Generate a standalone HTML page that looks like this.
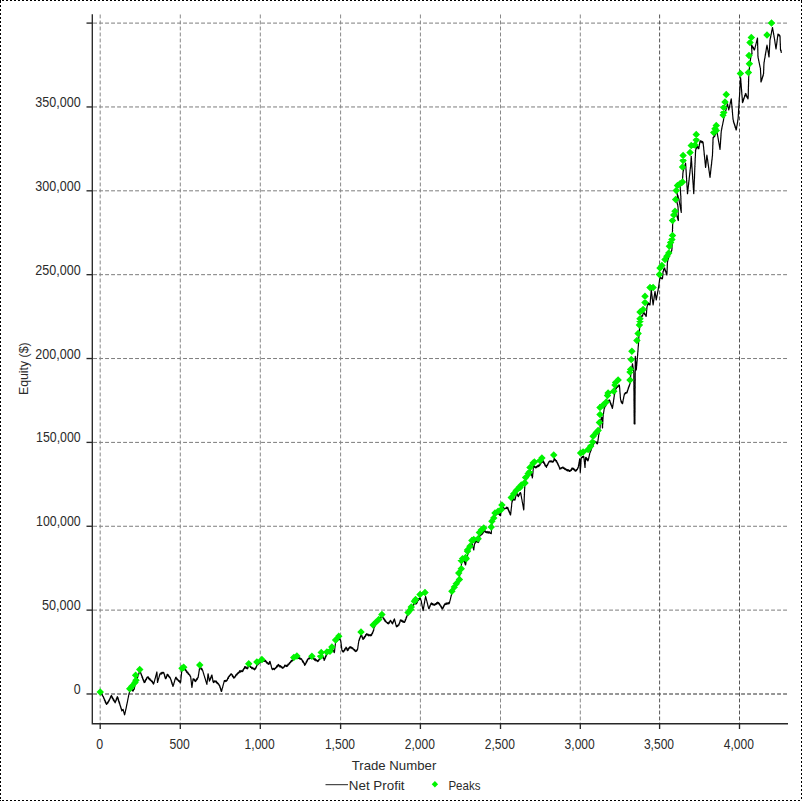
<!DOCTYPE html>
<html><head><meta charset="utf-8"><title>Equity Curve</title>
<style>html,body{margin:0;padding:0;background:#fff}svg{display:block}text{font-family:"Liberation Sans",sans-serif;font-size:13.6px;fill:#2b2b2b}</style></head><body>
<svg width="802" height="801" viewBox="0 0 802 801">
<rect width="802" height="801" fill="#fff"/>
<g stroke="#000" stroke-width="1" shape-rendering="crispEdges" stroke-dasharray="2 2">
<line x1="2" y1="0.5" x2="802" y2="0.5"/>
<line x1="2" y1="800.5" x2="802" y2="800.5"/>
<line x1="0.5" y1="1" x2="0.5" y2="801"/>
<line x1="801.5" y1="1" x2="801.5" y2="801"/>
</g><path d="M0 0h1v1h-1zM801 0h1v1h-1zM0 800h1v1h-1z" fill="#000" shape-rendering="crispEdges"/>
<g stroke="#7c7c7c" stroke-width="1" stroke-dasharray="3.9 2.1" fill="none">
<line x1="93.1" y1="23.1" x2="788" y2="23.1"/>
<line x1="93.1" y1="106.96" x2="788" y2="106.96"/>
<line x1="93.1" y1="190.82" x2="788" y2="190.82"/>
<line x1="93.1" y1="274.68" x2="788" y2="274.68"/>
<line x1="93.1" y1="358.54" x2="788" y2="358.54"/>
<line x1="93.1" y1="442.4" x2="788" y2="442.4"/>
<line x1="93.1" y1="526.26" x2="788" y2="526.26"/>
<line x1="93.1" y1="610.12" x2="788" y2="610.12"/>
<line x1="93.1" y1="693.98" x2="788" y2="693.98" stroke="#2e2e2e" stroke-width="1.2"/>
<line x1="100.2" y1="14.5" x2="100.2" y2="723.75" stroke="#888"/>
<line x1="180.3" y1="14.5" x2="180.3" y2="723.75" stroke="#888"/>
<line x1="260.3" y1="14.5" x2="260.3" y2="723.75" stroke="#888"/>
<line x1="340.6" y1="14.5" x2="340.6" y2="723.75" stroke="#888"/>
<line x1="420.4" y1="14.5" x2="420.4" y2="723.75" stroke="#888"/>
<line x1="500.5" y1="14.5" x2="500.5" y2="723.75" stroke="#888"/>
<line x1="580.3" y1="14.5" x2="580.3" y2="723.75" stroke="#888"/>
<line x1="659.6" y1="14.5" x2="659.6" y2="723.75" stroke="#555"/>
<line x1="739.5" y1="14.5" x2="739.5" y2="723.75" stroke="#555"/>
</g>
<g stroke="#282828" stroke-width="1.35" fill="none">
<path d="M92.3 14.3V723.75H788"/>
<line x1="86.5" y1="23.1" x2="92.3" y2="23.1"/>
<line x1="86.5" y1="106.96" x2="92.3" y2="106.96"/>
<line x1="86.5" y1="190.82" x2="92.3" y2="190.82"/>
<line x1="86.5" y1="274.68" x2="92.3" y2="274.68"/>
<line x1="86.5" y1="358.54" x2="92.3" y2="358.54"/>
<line x1="86.5" y1="442.4" x2="92.3" y2="442.4"/>
<line x1="86.5" y1="526.26" x2="92.3" y2="526.26"/>
<line x1="86.5" y1="610.12" x2="92.3" y2="610.12"/>
<line x1="86.5" y1="693.98" x2="92.3" y2="693.98"/>
<line x1="100.2" y1="723.75" x2="100.2" y2="729"/>
<line x1="180.3" y1="723.75" x2="180.3" y2="729"/>
<line x1="260.3" y1="723.75" x2="260.3" y2="729"/>
<line x1="340.6" y1="723.75" x2="340.6" y2="729"/>
<line x1="420.4" y1="723.75" x2="420.4" y2="729"/>
<line x1="500.5" y1="723.75" x2="500.5" y2="729"/>
<line x1="580.3" y1="723.75" x2="580.3" y2="729"/>
<line x1="659.6" y1="723.75" x2="659.6" y2="729"/>
<line x1="739.5" y1="723.75" x2="739.5" y2="729"/>
</g>
<polyline fill="none" stroke="#000" stroke-width="1.15" stroke-linejoin="round" points="100.25,691.9 100.57,691.85 100.88,693.29 101.2,692.62 101.52,694.21 101.83,693.65 102.15,695.36 102.47,694.92 102.78,696.41 103.1,696.25 103.31,696.4 103.52,697.87 103.74,697.4 103.95,698.68 104.16,698.2 104.38,700.15 104.59,699.41 104.8,700.8 105.01,700.11 105.22,702.26 105.44,701.16 105.65,702.94 105.86,701.94 106.08,703.74 106.29,703.03 106.5,704.4 106.79,704.47 107.08,703.1 107.37,703.49 107.66,702.12 107.95,703.04 108.24,701.32 108.53,702.01 108.82,700.15 109.11,701 109.4,700 109.61,698.84 109.81,699.39 110.02,698.16 110.22,698.5 110.43,696.8 110.63,697.66 110.84,696.05 111.04,696.78 111.25,695.6 111.52,695.48 111.79,697.1 112.05,696.26 112.32,698.34 112.59,697.58 112.86,699.24 113.12,698.39 113.39,700.42 113.66,699.25 113.93,701.04 114.2,700.08 114.46,701.92 114.73,701.42 115,702.5 115.23,702.79 115.45,701.06 115.68,701.61 115.91,700.11 116.14,700.7 116.36,698.64 116.59,699.62 116.82,697.55 117.05,698.44 117.27,696.65 117.5,696.9 117.67,698.13 117.84,697.26 118.01,699.09 118.18,698.16 118.35,700.45 118.52,699.44 118.68,701.33 118.85,700.75 119.02,702.41 119.19,701.44 119.36,703.64 119.53,702.38 119.7,704.26 119.87,703.71 120.04,705.55 120.21,704.98 120.38,706.48 120.55,705.95 120.72,707.32 120.88,707.07 121.05,708.77 121.22,708.08 121.39,709.5 121.56,708.97 121.73,710.94 121.9,710.6 122.3,709.82 122.7,710.41 123.1,709.4 123.13,709.85 123.51,710.5 123.38,710.85 123.78,711.51 123.7,711.9 124.01,712.51 123.97,712.91 124.33,713.55 124.18,713.9 124.53,714.53 124.6,715 124.65,714.43 124.91,713.97 124.88,713.35 125.17,712.91 125.08,712.26 125.38,711.83 125.37,711.22 125.63,710.77 125.57,710.13 125.88,709.7 125.75,709.03 126.13,708.64 126.03,707.98 126.25,707.5 126.47,707.02 126.35,706.35 126.63,705.9 126.55,705.25 126.92,704.85 126.77,704.16 127.14,703.77 127.03,703.1 127.32,702.66 127.28,702.03 127.56,701.59 127.5,700.95 127.72,700.47 127.7,699.85 127.95,699.39 127.91,698.76 128.15,698.29 128.16,697.69 128.38,697.21 128.36,696.6 128.62,696.14 128.59,695.51 128.75,695 129.02,694.52 128.92,693.83 129.23,693.37 129.23,692.73 129.53,692.27 129.5,691.62 129.79,691.15 129.73,690.48 130,690 130.3,690.55 130.6,688.58 130.9,689.43 131.2,688.01 131.5,688 131.67,688.9 131.83,688.46 132,690 132.17,689.16 132.33,690.93 132.5,691 132.88,690.2 133.26,691.02 133.64,688.99 134.02,689.62 134.4,688.75 134.36,688.16 134.59,687.73 134.5,687.11 134.81,686.72 134.6,686.03 134.92,685.65 134.79,685.01 135.02,684.58 135,684 135.19,683.06 135.38,683.81 135.56,681.84 135.75,682.81 135.94,680.96 136.12,681.47 136.31,679.67 136.5,680 136.69,680.44 136.88,678.14 137.06,679.33 137.25,677.16 137.44,678.29 137.62,676.53 137.81,677.15 138,676 138.18,674.95 138.35,675.35 138.53,674.15 138.7,674.51 138.88,673.01 139.05,673.76 139.22,671.58 139.4,672.61 139.57,670.59 139.75,671 140.03,672.44 140.32,671.08 140.6,672.5 140.79,673.59 140.97,673.1 141.16,674.58 141.34,674.19 141.53,675.64 141.71,675 141.9,676.25 142.11,677.66 142.32,676.44 142.53,678.44 142.73,677.6 142.94,679.68 143.15,678.99 143.36,680.64 143.57,679.52 143.78,681.75 143.98,680.66 144.19,682.61 144.4,682.5 144.66,681.59 144.92,682.39 145.18,680.56 145.43,681.46 145.69,679.23 145.95,680.28 146.21,678.65 146.47,679.68 146.72,677.52 146.98,678.27 147.24,676.96 147.5,676.9 147.89,677.71 148.28,676.78 148.66,678.89 149.05,678.03 149.44,679.68 149.82,678.29 150.21,680.35 150.6,680 150.95,679.87 151.3,681.5 151.65,680.84 152,682.01 152.35,681.15 152.7,683.23 153.05,682.26 153.4,684.24 153.75,683.75 153.8,683.16 154.17,682.75 154.05,682.06 154.39,681.64 154.39,681.01 154.69,680.56 154.68,679.94 155,679.5 154.96,678.86 155.27,678.42 155.26,677.79 155.61,677.37 155.53,676.7 155.85,676.26 155.79,675.61 156.18,675.21 156.09,674.54 156.47,674.13 156.37,673.46 156.72,673.04 156.66,672.38 156.9,671.9 156.98,672.49 156.87,672.96 157.06,673.61 156.97,674.1 157.19,674.76 157.02,675.21 157.22,675.86 157.03,676.29 157.29,676.98 157.13,677.43 157.35,678.09 157.17,678.54 157.44,679.22 157.28,679.68 157.48,680.33 157.33,680.78 157.51,681.43 157.34,681.87 157.5,682.5 157.75,682.04 157.69,681.41 158.06,681.03 157.95,680.36 158.33,679.98 158.27,679.35 158.63,678.95 158.58,678.33 158.94,677.93 158.88,677.3 159.22,676.9 159.17,676.27 159.55,675.89 159.44,675.23 159.84,674.86 159.71,674.18 160,673.75 160.54,674.06 161.07,672.71 161.61,674.13 162.14,672.18 162.68,673.27 163.21,672.27 163.75,672.5 163.9,673.63 164.06,673.16 164.21,674.54 164.37,674.21 164.52,675.85 164.68,674.81 164.83,677.03 164.98,676.24 165.14,677.96 165.29,676.97 165.45,678.65 165.6,678.75 165.81,677.39 166.02,678.71 166.23,676.83 166.44,677.74 166.66,675.75 166.87,676.48 167.08,674.42 167.29,675.73 167.5,674.4 167.81,674.4 168.12,675.87 168.43,675.05 168.74,676.68 169.05,676.12 169.36,677.54 169.67,676.67 169.98,678.22 170.29,677.64 170.6,678.75 170.78,679.89 170.96,679.48 171.14,680.89 171.31,680.18 171.49,682.08 171.67,681.59 171.85,683.44 172.03,682.22 172.21,684.5 172.39,683.71 172.56,685.14 172.74,684.82 172.92,686.53 173.1,686.25 173.17,685.69 173.46,685.26 173.45,684.65 173.83,684.27 173.71,683.6 174.06,683.21 174.06,682.61 174.42,682.21 174.32,681.56 174.69,681.17 174.66,680.55 174.92,680.11 174.9,679.49 175.25,679.1 175.25,678.5 175.59,678.09 175.6,677.5 176.02,677.19 176.43,679.16 176.85,678.37 177.27,680.03 177.68,679.21 178.1,680 178.52,681.28 178.93,680.22 179.35,681.79 179.77,680.99 180.18,682.99 180.6,682.5 180.58,681.91 180.78,681.45 180.67,680.81 180.9,680.37 180.82,679.75 181.01,679.28 180.94,678.66 181.12,678.19 181.03,677.56 181.25,677.11 181.1,676.45 181.36,676.02 181.24,675.38 181.46,674.93 181.36,674.3 181.56,673.83 181.49,673.22 181.67,672.75 181.55,672.1 181.83,671.69 181.72,671.05 181.94,670.6 181.9,670 182.4,668.79 182.9,669.8 183.4,668.26 183.9,669.4 184.4,668.5 184.74,668.31 185.09,670.24 185.43,669.26 185.78,670.92 186.12,669.97 186.47,672.11 186.81,671.07 187.16,672.9 187.5,672.5 187.84,672.15 188.19,674.06 188.53,673.17 188.88,674.71 189.22,674.22 189.57,675.41 189.91,675.04 190.26,676.62 190.6,676.25 190.59,676.74 190.79,677.36 190.73,677.82 190.98,678.47 190.78,678.85 191.09,679.53 190.96,679.96 191.17,680.58 191.08,681.03 191.31,681.66 191.21,682.11 191.44,682.73 191.33,683.17 191.61,683.83 191.38,684.2 191.69,684.88 191.58,685.31 191.86,685.97 191.7,686.38 191.92,687.01 191.9,687.5 191.92,686.92 192.14,686.46 192.03,685.8 192.3,685.37 192.2,684.73 192.45,684.28 192.37,683.64 192.58,683.17 192.52,682.54 192.74,682.08 192.67,681.45 192.85,680.97 192.79,680.34 193.02,679.89 192.92,679.24 193.1,678.75 193.52,679.83 193.93,678.79 194.35,680.74 194.77,679.64 195.18,681.71 195.6,681.25 195.91,680.21 196.22,680.85 196.54,678.9 196.85,679.8 197.16,678.13 197.47,679.17 197.79,677.61 198.1,677.5 198.32,677.02 198.14,676.32 198.47,675.91 198.33,675.22 198.66,674.81 198.56,674.15 198.81,673.69 198.7,673.02 199.01,672.6 198.84,671.9 199.19,671.5 199.04,670.81 199.37,670.39 199.2,669.7 199.52,669.28 199.42,668.62 199.63,668.14 199.6,667.52 199.75,667 200.14,667.98 200.54,667.46 200.93,669.13 201.32,668.04 201.71,669.86 202.11,668.85 202.5,670 202.78,670.6 202.73,671.01 203.04,671.63 203.02,672.06 203.44,672.74 203.38,673.14 203.74,673.79 203.69,674.2 204.02,674.83 204.01,675.26 204.37,675.91 204.4,676.37 204.69,676.98 204.66,677.4 205.02,678.04 204.99,678.46 205.41,679.15 205.34,679.54 205.68,680.18 205.66,680.61 206.04,681.27 205.96,681.66 206.36,682.33 206.3,682.74 206.63,683.37 206.67,683.83 206.9,684.4 207.04,683.88 206.9,683.21 207.17,682.76 207.05,682.1 207.27,681.63 207.22,681 207.42,680.52 207.29,679.85 207.59,679.42 207.42,678.73 207.67,678.28 207.56,677.62 207.82,677.17 207.69,676.5 207.91,676.03 207.77,675.35 208.04,674.91 207.89,674.23 208.1,673.75 208.33,674.37 208.23,674.79 208.47,675.41 208.34,675.82 208.71,676.51 208.56,676.91 208.83,677.54 208.77,678 209.08,678.65 208.96,679.07 209.23,679.7 209.15,680.14 209.41,680.77 209.4,681.25 209.61,679.81 209.82,680.62 210.03,678.85 210.23,679.81 210.44,677.77 210.65,678.89 210.86,677.13 211.07,677.97 211.28,675.93 211.48,676.39 211.69,675.19 211.9,675 212.09,675.59 211.99,676.01 212.26,676.64 212.2,677.09 212.45,677.7 212.37,678.14 212.68,678.79 212.59,679.22 212.85,679.85 212.69,680.23 212.98,680.87 212.87,681.29 213.1,681.9 213.6,682.54 214.1,680.75 214.6,682.02 215.1,680.82 215.6,681.25 215.98,682.2 216.36,681.05 216.74,683.07 217.12,682.19 217.5,683.72 217.88,683 218.26,684.24 218.64,683.85 219.02,685.47 219.4,685 219.58,685.03 219.75,686.99 219.93,686.14 220.1,687.66 220.28,687.06 220.45,688.7 220.62,688.23 220.8,690.26 220.97,689 221.15,691.25 221.32,690.24 221.5,691.5 221.78,691.06 221.64,690.38 222.02,690 221.93,689.36 222.25,688.94 222.21,688.32 222.56,687.92 222.48,687.28 222.86,686.89 222.8,686.26 223.07,685.82 223.02,685.19 223.36,684.79 223.34,684.18 223.66,683.76 223.63,683.15 223.97,682.75 223.84,682.07 224.2,681.68 224.15,681.05 224.4,680.6 224.86,681.28 225.32,680.25 225.79,681.66 226.25,681.25 226.53,680.33 226.81,680.72 227.08,679.34 227.36,680.21 227.64,678.19 227.92,678.82 228.19,676.97 228.47,678.33 228.75,676.9 229.11,675.84 229.46,676.42 229.82,675.1 230.18,675.49 230.54,674.11 230.89,674.59 231.25,673.75 231.56,673.75 231.86,675.21 232.17,674.52 232.47,676.56 232.78,675.37 233.08,677.24 233.39,676.55 233.69,678.27 234,678.1 234.32,677.09 234.64,677.76 234.96,676.4 235.29,676.83 235.61,674.96 235.93,675.85 236.25,675 236.62,673.98 237,674.97 237.38,673.01 237.75,673.97 238.12,672.63 238.5,673.24 238.88,671.8 239.25,672.61 239.62,670.7 240,671.25 240.5,672.11 241,670.38 241.5,671.6 242,670.9 242.5,671.25 242.78,671.54 243.06,669.4 243.33,670.42 243.61,668.62 243.89,669.17 244.17,667.78 244.44,668.77 244.72,666.54 245,666.9 245.42,668.07 245.83,666.58 246.25,668.31 246.67,667.73 247.08,668.87 247.5,668.75 247.68,667.56 247.86,668.43 248.04,666.23 248.21,667.39 248.39,665.34 248.57,666.34 248.75,665 249.17,664.8 249.58,666.51 250,665.89 250.42,667.48 250.83,666.61 251.25,667.5 251.72,668.64 252.19,667.24 252.66,668.73 253.12,668.04 253.59,669.18 254.06,668.2 254.53,669.93 255,669.4 255.25,668.5 255.5,668.78 255.75,667.24 256,668.09 256.25,666.33 256.5,666.87 256.75,665.2 257,665.74 257.25,664.38 257.5,664.4 257.92,664.62 258.33,662.68 258.75,663.93 259.17,661.92 259.58,663.03 260,662 260.5,661.27 261,661.99 261.5,660.32 262,661 262.5,661.7 263,660.34 263.5,661.15 264,660.09 264.5,661.42 265,660.6 265.38,660.39 265.75,661.85 266.12,661 266.5,663.02 266.88,662.03 267.25,663.23 267.62,662.72 268,664.23 268.38,663.27 268.75,664.4 268.96,664.33 269.17,662.53 269.38,663.61 269.58,661.66 269.79,662.23 270,661.25 269.99,661.7 270.35,662.37 270.28,662.78 270.62,663.43 270.61,663.89 270.94,664.53 270.87,664.95 271.23,665.62 271.12,666.02 271.43,666.65 271.42,667.1 271.72,667.73 271.65,668.15 271.9,668.75 272.42,669.67 272.93,668.33 273.45,669.33 273.97,668.29 274.48,669.68 275,668.75 275.34,667.91 275.69,668.28 276.03,667.13 276.38,667.66 276.72,665.78 277.07,667.13 277.41,665.05 277.76,666.37 278.1,665 278.55,664.37 279.01,666.1 279.46,665.4 279.92,667.04 280.37,665.62 280.83,667.04 281.28,666.23 281.74,667.82 282.19,666.97 282.65,668.36 283.1,668.1 283.42,667.25 283.73,667.6 284.05,666.34 284.37,666.98 284.68,665.09 285,665.6 285.48,666.17 285.95,665 286.42,666.55 286.9,666.25 287.24,665.28 287.59,666.26 287.93,664.16 288.28,665.18 288.62,663.8 288.97,664.37 289.31,662.77 289.66,663.82 290,662.5 290.42,661.66 290.83,662.28 291.25,660.45 291.67,661.3 292.08,659.97 292.5,661 292.92,658.97 293.33,659.75 293.75,659 294.27,658.4 294.8,658.87 295.32,657.35 295.85,658.49 296.38,656.96 296.9,657.5 297.44,658.54 297.99,657.27 298.53,658.47 299.07,657.2 299.62,658.99 300.16,657.94 300.71,659.37 301.25,658.75 301.54,658.7 301.83,660.21 302.12,659.86 302.4,661.47 302.69,660.26 302.98,662.36 303.27,661.2 303.56,662.94 303.85,662.6 304.13,664.18 304.42,663.12 304.71,665.44 305,665 305.24,663.95 305.48,664.53 305.72,662.96 305.95,663.71 306.19,661.69 306.43,662.56 306.67,660.81 306.91,661.94 307.15,659.83 307.38,661 307.62,659 307.86,659.77 308.1,658.75 308.64,658.04 309.19,658.95 309.73,657.4 310.27,658.42 310.81,657.4 311.36,658.48 311.9,657.5 312.34,657.29 312.79,658.42 313.23,657.96 313.67,659.26 314.11,658.32 314.56,660.07 315,659.4 315.44,658.79 315.89,660.87 316.33,659.7 316.77,660.84 317.21,660.33 317.66,661.63 318.1,661.25 318.38,660.01 318.66,660.91 318.93,659.36 319.21,659.95 319.49,658.17 319.77,659.17 320.04,657.15 320.32,658.33 320.6,657 320.75,655.76 320.9,656.41 321.05,654.65 321.2,655.51 321.35,653.82 321.5,654 321.74,655.06 321.98,654.21 322.23,655.96 322.47,655.51 322.71,656.98 322.95,656.57 323.19,658.38 323.43,657.31 323.67,659.03 323.92,658.42 324.16,660.45 324.4,660 324.59,658.85 324.78,659.48 324.98,657.67 325.17,658.74 325.36,656.56 325.55,657.4 325.75,655.87 325.94,656.84 326.13,654.65 326.32,655.9 326.52,654.14 326.71,654.51 326.9,653.5 327.42,652.93 327.93,653.62 328.45,652.07 328.97,653.53 329.48,651.76 330,652.5 330.24,652.56 330.48,650.63 330.71,651.61 330.95,650.01 331.19,650.81 331.42,648.58 331.66,649.4 331.9,648.5 332.18,648.24 332.46,650.1 332.73,649.37 333.01,650.84 333.29,650.3 333.57,651.63 333.84,651.12 334.12,652.76 334.4,652.5 334.35,651.88 334.6,651.44 334.54,650.81 334.73,650.34 334.6,649.67 334.85,649.22 334.76,648.59 334.98,648.12 334.84,647.45 335.13,647.03 335.04,646.39 335.22,645.9 335.13,645.27 335.39,644.82 335.24,644.15 335.47,643.69 335.41,643.07 335.65,642.62 335.6,642 335.95,640.97 336.3,641.62 336.65,640.14 337,641.14 337.35,639.25 337.7,640.02 338.05,638.34 338.4,639.03 338.75,638 339.12,637.53 339.49,639.75 339.86,638.64 340.23,640.05 340.6,640 340.55,640.49 340.82,641.15 340.76,641.64 341.03,642.3 340.87,642.73 341.16,643.41 341.02,643.84 341.31,644.52 341.15,644.95 341.39,645.59 341.34,646.08 341.57,646.73 341.43,647.16 341.75,647.86 341.62,648.3 341.87,648.95 341.74,649.4 341.9,650 342.2,651.12 342.5,650.53 342.8,651.93 343.1,651.9 343.42,650.81 343.73,651.92 344.05,650.18 344.36,650.78 344.68,648.87 344.99,650.19 345.31,648.37 345.62,648.79 345.94,647.03 346.25,647.5 346.46,648.95 346.67,647.9 346.88,649.42 347.08,648.66 347.29,650.66 347.5,650.6 347.81,649.25 348.12,650.39 348.44,648.37 348.75,649.18 349.06,647.47 349.38,648.29 349.69,646.78 350,646.9 350.44,648.02 350.89,646.58 351.33,648.14 351.77,647.49 352.21,648.8 352.66,647.83 353.1,648.75 353.52,649.74 353.93,649.17 354.35,650.49 354.77,649.64 355.18,651.72 355.6,651.25 356.08,650.58 356.55,651.3 357.02,649.51 357.5,650 357.63,649.48 357.53,648.83 357.8,648.4 357.7,647.75 357.99,647.32 357.86,646.66 358.13,646.22 358.03,645.57 358.31,645.14 358.19,644.48 358.47,644.05 358.34,643.38 358.61,642.94 358.54,642.31 358.78,641.86 358.75,641.25 358.94,640.12 359.12,640.73 359.31,638.95 359.49,640.06 359.68,638.13 359.86,638.69 360.05,637.13 360.23,637.65 360.42,636.34 360.6,636.25 360.79,635.74 360.74,635.09 360.99,634.62 361,634 361.19,633.84 361.38,635.34 361.57,634.75 361.76,636.35 361.95,635.67 362.15,637.76 362.34,636.79 362.53,638.29 362.72,637.77 362.91,639.47 363.1,639.4 363.39,638.03 363.67,638.91 363.96,637.17 364.25,638.53 364.53,636.34 364.82,637.51 365.1,635.77 365.39,636.7 365.68,634.67 365.96,635.78 366.25,634.4 366.81,633.64 367.36,635.1 367.92,633.98 368.47,635.84 369.03,634.69 369.58,635.75 370.14,634.53 370.69,635.9 371.25,635.6 371.48,634.2 371.7,635.08 371.93,633.24 372.16,633.98 372.39,632.41 372.61,633.45 372.84,631.58 373.07,632.02 373.3,630.37 373.52,631.04 373.75,630 373.75,629.37 373.92,628.84 373.83,628.16 374.09,627.68 374,627 374.32,625.75 374.64,626.89 374.96,625.06 375.28,625.82 375.6,624.5 375.95,623.71 376.3,624.38 376.65,622.61 377,623.5 377.35,621.68 377.7,622.84 378.05,621.09 378.4,622.27 378.75,621 379.04,620.15 379.32,621.04 379.61,618.91 379.9,619.76 380.18,617.9 380.47,618.77 380.75,616.87 381.04,618.05 381.33,616.35 381.61,617.26 381.9,616 382.2,615.92 382.5,617.49 382.8,616.78 383.1,618.1 383.45,618.88 383.8,618.11 384.15,619.86 384.5,619.06 384.85,621.15 385.2,619.94 385.55,621.8 385.9,620.95 386.25,621.9 386.62,622.6 386.99,622.29 387.36,623.43 387.73,622.67 388.1,623.75 388.46,623.9 388.81,622.2 389.17,623.29 389.53,621.54 389.89,621.97 390.24,620.31 390.6,620.6 390.87,621.4 391.14,621.17 391.41,622.5 391.69,622 391.96,623.4 392.23,622.83 392.5,623.75 392.69,623.94 392.88,622.05 393.07,622.71 393.26,621.03 393.45,621.88 393.64,620.33 393.83,621.16 394.02,619.27 394.21,619.67 394.4,618.75 394.47,619.25 394.78,619.89 394.66,620.28 395.05,620.96 394.97,621.38 395.27,622.01 395.27,622.47 395.57,623.1 395.48,623.51 395.81,624.16 395.74,624.58 396.08,625.23 395.98,625.63 396.25,626.25 396.75,626.79 397.25,625.26 397.75,626.39 398.25,624.89 398.75,625 398.94,625.16 399.12,623.42 399.31,623.98 399.49,622.63 399.68,623.31 399.86,621.66 400.05,622.17 400.23,620.09 400.42,620.92 400.6,620 401.08,619.86 401.55,621.33 402.02,620.29 402.5,621.98 402.98,620.73 403.45,622.32 403.92,621.66 404.4,622.5 404.61,622.5 404.82,621.1 405.02,621.82 405.23,619.6 405.44,620.67 405.65,619.04 405.86,619.71 406.07,617.54 406.27,618.43 406.48,616.5 406.69,617.38 406.9,616.25 407.14,615.33 407.38,615.75 407.62,614.42 407.86,614.81 408.1,614 408.46,613.03 408.81,613.94 409.17,611.95 409.53,613.14 409.89,611.09 410.24,611.93 410.6,611 410.73,609.83 410.86,610.6 410.99,608.68 411.12,609.66 411.25,608.5 411.51,607.55 411.77,608.31 412.04,606.2 412.3,607.13 412.56,605.33 412.82,606.09 413.09,604.8 413.35,605.31 413.61,603.58 413.88,604.83 414.14,602.67 414.4,603 414.86,603.72 415.32,602.5 415.79,604.1 416.25,603.75 416.47,602.8 416.69,603.71 416.91,601.62 417.12,602.64 417.34,600.66 417.56,601.87 417.78,599.85 418,600 418.4,600.45 418.8,598.44 419.2,599.66 419.6,597.8 420,598 420.25,599.28 420.5,598.32 420.75,600.02 421,600 421.03,600.49 421.32,601.12 421.26,601.56 421.56,602.2 421.46,602.61 421.68,603.21 421.67,603.67 421.98,604.32 421.86,604.72 422.11,605.34 422.1,605.8 422.32,606.39 422.25,606.82 422.58,607.48 422.46,607.88 422.8,608.55 422.73,608.98 423,609.6 422.91,610.02 423.1,610.6 423.33,610.12 423.16,609.42 423.52,609.02 423.43,608.36 423.71,607.92 423.54,607.21 423.91,606.82 423.81,606.15 424.04,605.67 424,605.05 424.21,604.56 424.12,603.9 424.48,603.5 424.33,602.81 424.67,602.4 424.53,601.71 424.81,601.26 424.77,600.63 424.99,600.15 424.9,599.49 425.19,599.05 425.13,598.41 425.4,597.96 425.35,597.32 425.58,596.85 425.6,596.25 425.66,596.75 425.99,597.41 425.92,597.83 426.23,598.47 426.14,598.89 426.52,599.57 426.43,599.98 426.81,600.66 426.78,601.11 427.06,601.74 427.01,602.18 427.37,602.84 427.3,603.27 427.64,603.93 427.55,604.34 427.86,604.99 427.8,605.41 428.13,606.07 428.07,606.5 428.41,607.16 428.42,607.63 428.68,608.25 428.75,608.75 428.98,607.43 429.2,608.66 429.43,606.87 429.66,607.33 429.89,605.55 430.11,606.49 430.34,604.71 430.57,605.28 430.8,603.58 431.02,604.46 431.25,603.1 431.67,602.92 432.08,604.65 432.5,603.54 432.92,604.83 433.33,603.92 433.75,605 434.23,605.36 434.72,604.04 435.2,604.89 435.68,603.51 436.17,604.43 436.65,602.57 437.13,603.87 437.62,602.06 438.1,602.5 438.41,603.5 438.73,602.81 439.04,604.42 439.36,603.4 439.67,605.12 439.99,604.3 440.3,605.97 440.61,605.61 440.93,607.01 441.24,606.08 441.56,608.05 441.87,607.29 442.19,609.18 442.5,608.75 442.75,607.77 443,608.37 443.25,606.59 443.5,607.55 443.75,605.45 444,606.48 444.25,604.7 444.5,605.28 444.75,603.82 445,603.75 445.55,604.52 446.1,602.85 446.65,604.3 447.2,602.99 447.75,603.95 448.3,602.45 448.85,603.87 449.4,603.1 449.47,602.53 449.76,602.08 449.66,601.42 450,601 449.99,600.38 450.27,599.93 450.21,599.28 450.59,598.89 450.52,598.24 450.79,597.78 450.78,597.16 451.07,596.72 451.02,596.08 451.25,595.6 451.38,595.51 451.51,594.02 451.64,594.49 451.77,592.59 451.9,593 452.18,593.28 452.46,591.6 452.73,592.43 453.01,590.6 453.29,591.07 453.57,589.06 453.84,590.32 454.12,588.21 454.4,588.5 454.71,588.6 455.02,587.05 455.32,587.73 455.63,586.1 455.94,586.46 456.25,585.5 456.56,584.48 456.88,584.95 457.19,583.57 457.51,584.52 457.82,582.49 458.14,583.44 458.45,581.63 458.77,582.52 459.08,581.03 459.4,581 459.53,580.52 459.35,579.86 459.58,579.43 459.34,578.74 459.58,578.33 459.4,577.67 459.65,577.25 459.45,576.58 459.64,576.13 459.46,575.48 459.6,575 459.78,575.38 459.97,573.19 460.15,574.26 460.33,572.14 460.52,573.25 460.7,571.27 460.88,572.11 461.07,570.47 461.25,570.5 461.38,570.03 461.22,569.4 461.39,568.95 461.19,568.29 461.45,567.9 461.24,567.24 461.44,566.81 461.29,566.18 461.49,565.75 461.31,565.1 461.52,564.68 461.33,564.03 461.61,563.65 461.41,562.99 461.5,562.5 461.92,562.82 462.33,560.85 462.75,561.82 463.17,560.2 463.58,561.35 464,560 464.16,560.14 464.32,561.67 464.48,561.07 464.64,562.82 464.8,561.59 464.96,563.65 465.12,563.11 465.28,564.69 465.44,563.83 465.6,565 465.79,564.51 465.64,563.83 465.93,563.4 465.76,562.7 466.06,562.28 465.94,561.62 466.25,561.19 466.11,560.51 466.25,560 466.51,559.51 466.44,558.84 466.79,558.4 466.74,557.74 467.09,557.3 467,556.62 467.28,556.14 467.28,555.51 467.5,555 467.68,555.08 467.86,553.66 468.04,554.09 468.21,552.41 468.39,553.26 468.57,551.45 468.75,552 468.93,550.53 469.11,551.29 469.29,549.09 469.46,550.16 469.64,548.53 469.82,549.33 470,548 470.19,546.93 470.38,547.46 470.57,546.09 470.76,546.81 470.95,544.67 471.14,545.72 471.33,543.88 471.52,544.68 471.71,543.03 471.9,543 472.19,543.62 472.1,544.03 472.44,544.68 472.34,545.08 472.74,545.77 472.66,546.18 472.98,546.81 472.94,547.25 473.24,547.88 473.19,548.31 473.55,548.97 473.48,549.39 473.75,550 473.89,549.48 473.8,548.81 474.03,548.34 473.93,547.67 474.16,547.2 474.11,546.56 474.35,546.09 474.22,545.41 474.44,544.93 474.35,544.27 474.5,543.75 474.75,543.92 475,542.24 475.25,543.1 475.5,541.18 475.75,542.01 476,541 476.55,540.27 477.1,542.22 477.65,541.17 478.2,542.56 478.75,541.9 478.71,541.29 479.07,540.91 478.97,540.27 479.26,539.85 479.12,539.18 479.38,538.75 479.37,538.15 479.66,537.73 479.5,537.06 479.79,536.64 479.75,536.03 479.97,535.57 480,535 480.5,534.27 481,535.31 481.5,533.7 482,534.43 482.5,533.75 482.71,532.32 482.93,533.5 483.14,531.71 483.36,532.49 483.57,530.36 483.79,531.35 484,530 484.32,529.63 484.64,531.64 484.96,530.32 485.28,532.37 485.6,531.9 486.15,531.52 486.7,532.81 487.25,531.46 487.8,532.99 488.35,531.67 488.9,533.23 489.45,531.75 490,532.5 490.42,533.41 490.83,532.86 491.25,533.75 491.35,533.25 491.22,532.61 491.42,532.16 491.3,531.53 491.5,531.08 491.37,530.44 491.6,530.01 491.44,529.36 491.71,528.95 491.56,528.3 491.78,527.87 491.59,527.2 491.82,526.77 491.64,526.1 491.92,525.7 491.74,525.03 491.95,524.59 491.9,524 492.13,522.57 492.36,523.38 492.59,521.77 492.82,522.73 493.06,521.15 493.29,521.71 493.52,519.75 493.75,520 494.03,519.52 493.95,518.84 494.31,518.42 494.21,517.72 494.54,517.28 494.45,516.59 494.78,516.14 494.74,515.49 495,515 495.44,515.43 495.89,513.89 496.33,515.01 496.77,513.3 497.21,514.2 497.66,512.63 498.1,513 498.46,514.18 498.81,513.28 499.17,514.72 499.53,513.89 499.89,515.53 500.24,514.39 500.6,515.6 500.74,515.11 500.58,514.45 500.86,514.04 500.73,513.39 500.96,512.96 500.84,512.32 501.14,511.92 500.94,511.24 501.23,510.83 501.08,510.18 501.3,509.73 501.2,509.1 501.44,508.67 501.28,508.01 501.57,507.61 501.5,507 502,506.89 502.5,508.28 503,506.87 503.5,508.67 504,507.89 504.5,509.02 505,508.75 505.5,508.16 506,508.7 506.5,507.1 507,508.46 507.5,507.5 507.71,507.26 507.91,509.32 508.12,508.11 508.33,510.21 508.53,509.29 508.74,511.22 508.95,510.24 509.15,512.2 509.36,511.25 509.57,512.96 509.77,512.26 509.98,514.12 510.19,513.2 510.39,514.9 510.6,515 510.59,514.42 510.77,513.94 510.64,513.3 510.96,512.91 510.77,512.22 511.03,511.79 510.87,511.12 511.18,510.72 511,510.05 511.24,509.61 511.14,508.98 511.37,508.53 511.25,507.89 511.48,507.44 511.34,506.78 511.64,506.38 511.5,505.73 511.72,505.28 511.62,504.64 511.79,504.17 511.66,503.51 511.95,503.1 511.9,502.5 512.06,501.1 512.21,502.11 512.37,500.66 512.53,501.07 512.69,499.3 512.84,500.41 513,499 513.5,498.31 514,500.13 514.5,499.16 515,500 515.18,499.5 515.12,498.86 515.42,498.43 515.4,497.81 515.63,497.34 515.64,496.74 515.92,496.3 515.86,495.66 516.18,495.24 516.09,494.58 516.4,494.15 516.32,493.5 516.5,493 516.73,493.81 516.96,493.15 517.19,494.87 517.41,494.07 517.64,495.77 517.87,495.42 518.1,496.25 518.41,496.59 518.73,494.54 519.04,495.7 519.35,493.59 519.66,494.29 519.98,492.72 520.29,493.74 520.6,492.5 520.6,492.99 520.94,493.67 520.82,494.1 521.14,494.77 520.97,495.17 521.24,495.81 521.24,496.3 521.5,496.94 521.36,497.35 521.64,498 521.6,498.47 521.9,499.13 521.81,499.57 522.11,500.23 521.98,500.65 522.23,501.28 522.19,501.75 522.48,502.4 522.38,502.84 522.68,503.5 522.6,503.95 522.89,504.6 522.78,505.03 523.08,505.69 522.95,506.11 523.25,506.77 523.17,507.22 523.48,507.88 523.31,508.28 523.68,508.98 523.55,509.39 523.75,510 523.85,509.49 523.74,508.86 523.96,508.43 523.72,507.72 524,507.31 523.81,506.64 524.02,506.2 523.79,505.5 524.09,505.1 523.87,504.41 524.09,503.97 523.94,503.32 524.19,502.9 523.99,502.22 524.22,501.78 524.01,501.1 524.28,500.69 524.04,499.99 524.27,499.55 524.16,498.92 524.31,498.44 524.17,497.8 524.39,497.36 524.18,496.67 524.47,496.27 524.3,495.61 524.51,495.16 524.27,494.46 524.56,494.06 524.34,493.37 524.55,492.92 524.36,492.25 524.65,491.85 524.42,491.15 524.7,490.75 524.5,490.07 524.67,489.6 524.53,488.95 524.78,488.53 524.61,487.87 524.83,487.42 524.59,486.72 524.75,486.25 524.9,485.72 524.8,485.05 525.1,484.61 524.96,483.92 525.21,483.45 525.14,482.8 525.41,482.34 525.24,481.63 525.54,481.19 525.46,480.53 525.6,480 525.88,480.39 526.16,478.3 526.43,479.14 526.71,477.53 526.99,478.66 527.27,476.45 527.54,477.54 527.82,475.82 528.1,476 528.27,476.15 528.45,474.46 528.62,474.81 528.79,473.37 528.96,474.04 529.14,472.17 529.31,472.86 529.48,471.06 529.65,471.74 529.83,470.12 530,470 530.18,470.9 530.36,470.12 530.54,472.17 530.71,471.74 530.89,473.4 531.07,472.4 531.25,474.18 531.43,473.58 531.61,475.37 531.79,474.7 531.96,476.24 532.14,476.08 532.32,477.91 532.5,477.5 532.41,476.88 532.69,476.46 532.54,475.8 532.77,475.35 532.61,474.69 532.88,474.27 532.69,473.59 533.01,473.19 532.8,472.5 533.12,472.11 532.95,471.43 533.13,470.96 533.05,470.34 533.24,469.87 533.16,469.25 533.32,468.77 533.21,468.13 533.49,467.72 533.31,467.04 533.59,466.63 533.5,466 533.88,465.48 534.25,467.12 534.62,466.42 535,467.5 535.5,467.83 536,466.59 536.5,467.67 537,466.01 537.5,466.93 538,465.27 538.5,466.67 539,464.75 539.5,465.83 540,465 540.12,463.89 540.25,464.43 540.38,462.57 540.5,463 540.93,463.65 541.37,461.95 541.8,462.48 542.23,461.34 542.67,462.09 543.1,461.25 543.36,460.83 543.62,463.08 543.89,461.81 544.15,463.49 544.41,462.79 544.67,464.85 544.94,463.81 545.2,465.96 545.46,465.12 545.73,466.38 545.99,465.63 546.25,466.9 546.51,467.34 546.77,465.21 547.04,466 547.3,464.32 547.56,465.35 547.83,463.68 548.09,464.14 548.35,462.64 548.61,463.07 548.88,461.56 549.14,462.16 549.4,461.25 549.93,460.86 550.46,461.86 550.99,460.78 551.51,461.96 552.04,460.94 552.57,462.26 553.1,461.9 553.32,461.02 553.53,461.76 553.75,459.86 553.97,460.71 554.18,458.41 554.4,458.75 554.76,460.08 555.11,459.23 555.47,460.71 555.83,460.16 556.19,461.91 556.54,460.6 556.9,461.9 557.12,463.11 557.34,462.27 557.56,463.91 557.79,463.02 558.01,464.97 558.23,464.12 558.45,465.75 558.67,465.34 558.89,466.67 559.11,466.02 559.34,467.96 559.56,467.35 559.78,469.13 560,468.75 560.5,468 561,468.84 561.5,467.57 562,468.25 562.5,467.5 562.97,466.89 563.44,468.51 563.91,467.78 564.38,469.09 564.84,468.16 565.31,469.82 565.78,468.76 566.25,469.4 566.72,470.57 567.19,469.49 567.66,470.98 568.12,469.58 568.59,471.02 569.06,470.16 569.53,471.53 570,471.25 570.36,470.31 570.71,470.81 571.07,469.34 571.43,470.39 571.79,468.05 572.14,469.45 572.5,468.1 572.89,468.1 573.27,469.4 573.66,468.4 574.05,470.04 574.44,469.29 574.83,470.98 575.21,469.92 575.6,471.25 575.96,471.14 576.31,469.52 576.67,470.44 577.03,469.03 577.39,469.33 577.74,467.7 578.1,468.1 578.3,467.61 578.23,466.96 578.48,466.5 578.35,465.82 578.66,465.39 578.58,464.74 578.84,464.29 578.81,463.66 579.1,463.22 578.95,462.53 579.24,462.09 579.21,461.47 579.42,460.98 579.35,460.34 579.65,459.91 579.58,459.26 579.75,458.75 579.84,459.34 579.68,459.79 579.93,460.47 579.7,460.88 579.96,461.56 579.8,462.01 579.95,462.63 579.79,463.08 580.02,463.75 579.83,464.18 580.03,464.83 579.86,465.28 580.09,465.95 579.9,466.37 580.18,467.08 579.97,467.49 580.14,468.13 579.97,468.57 580.23,469.26 580.02,469.67 580.25,470.34 580.12,470.81 580.34,471.47 580.14,471.9 580.25,472.5 580.35,471.98 580.24,471.34 580.47,470.89 580.35,470.25 580.54,469.78 580.38,469.11 580.61,468.67 580.48,468.02 580.7,467.57 580.49,466.87 580.79,466.47 580.61,465.79 580.85,465.35 580.68,464.67 580.93,464.24 580.79,463.58 581.01,463.13 580.77,462.42 581.05,462 580.89,461.33 581.13,460.89 580.96,460.22 581.16,459.75 581,459.08 581.25,458.65 581.14,458.02 581.25,457.5 581.75,457.65 582.25,456.51 582.75,457.59 583.25,456.15 583.75,456.25 583.87,456.82 583.75,457.25 584,457.9 583.94,458.36 584.16,458.99 584,459.4 584.27,460.06 584.11,460.47 584.35,461.11 584.21,461.53 584.52,462.21 584.41,462.65 584.59,463.25 584.49,463.69 584.74,464.34 584.62,464.78 584.82,465.39 584.73,465.84 584.95,466.47 584.83,466.9 585,467.5 585.17,467.02 585,466.35 585.21,465.89 585.01,465.21 585.23,464.76 585.07,464.09 585.37,463.69 585.18,463.01 585.39,462.55 585.2,461.87 585.47,461.45 585.31,460.78 585.57,460.36 585.34,459.65 585.58,459.21 585.46,458.57 585.65,458.1 585.6,457.5 585.96,457.34 586.31,459.32 586.67,458 587.03,460.17 587.39,458.88 587.74,461.01 588.1,460.6 588.17,460.03 588.45,459.58 588.34,458.9 588.75,458.52 588.66,457.86 588.95,457.41 588.88,456.76 589.2,456.33 589.14,455.68 589.42,455.23 589.4,454.61 589.72,454.18 589.69,453.55 589.94,453.08 590,452.5 590.19,451.07 590.38,452.31 590.58,450.09 590.77,451.22 590.96,449.17 591.15,450.38 591.35,448.12 591.54,448.85 591.73,447.27 591.92,448 592.12,446.25 592.31,447 592.5,446 592.75,444.86 593,445.95 593.25,443.86 593.5,444.59 593.75,442.97 594,443.75 594.25,441.76 594.5,442.71 594.75,441.2 595,441.25 595.42,442.4 595.83,441.68 596.25,443.2 596.67,441.99 597.08,443.98 597.5,443.75 597.5,443.16 597.75,442.71 597.63,442.05 597.88,441.6 597.83,440.98 598.03,440.51 597.97,439.88 598.21,439.43 598.12,438.78 598.36,438.32 598.3,437.7 598.54,437.25 598.38,436.57 598.7,436.16 598.57,435.49 598.75,435 598.96,434.53 598.87,433.88 599.16,433.45 599.04,432.79 599.33,432.37 599.22,431.71 599.52,431.29 599.44,430.65 599.69,430.2 599.64,429.57 599.91,429.13 599.82,428.49 600,428 600.14,427.53 600.01,426.9 600.18,426.45 600,425.79 600.24,425.38 600.1,424.74 600.33,424.32 600.19,423.69 600.45,423.28 600.25,422.62 600.49,422.2 600.33,421.56 600.49,421.1 600.33,420.46 600.5,420 600.78,420.1 601.06,418.63 601.34,419.07 601.62,417.4 601.9,417.5 602.05,418.12 601.9,418.57 602.07,419.2 601.88,419.63 602.18,420.33 602.02,420.78 602.2,421.42 602.07,421.87 602.3,422.54 602.11,422.96 602.38,423.65 602.15,424.06 602.41,424.74 602.22,425.17 602.5,425.86 602.28,426.27 602.53,426.95 602.34,427.38 602.5,428 602.65,427.52 602.42,426.83 602.65,426.4 602.48,425.74 602.69,425.3 602.54,424.66 602.8,424.24 602.62,423.58 602.89,423.17 602.67,422.49 602.89,422.05 602.7,421.38 602.99,420.99 602.77,420.3 603,419.87 602.84,419.22 603.06,418.78 602.87,418.11 603.1,417.68 602.96,417.04 603.18,416.6 603.1,416 603.09,415.42 603.34,414.98 603.22,414.33 603.56,413.95 603.41,413.29 603.68,412.87 603.6,412.24 603.83,411.8 603.77,411.18 604.02,410.75 603.89,410.1 604.13,409.66 604.02,409.01 604.32,408.61 604.19,407.96 604.4,407.5 604.69,407.85 604.98,405.58 605.27,406.46 605.56,404.9 605.84,405.89 606.13,404.16 606.42,404.36 606.71,402.82 607,403 607.34,403.21 607.69,401.24 608.03,402.52 608.37,400.62 608.71,401.81 609.06,399.78 609.4,400 609.59,401.16 609.79,400.26 609.98,402.09 610.17,401.47 610.37,403.23 610.56,402.49 610.76,404.46 610.95,403.3 611.14,405.21 611.34,404.67 611.53,406.13 611.73,405.49 611.92,407.26 612.11,406.4 612.31,408.47 612.5,408.1 612.44,407.47 612.76,407.06 612.64,406.41 612.93,405.98 612.75,405.29 613.06,404.87 612.95,404.22 613.26,403.81 613.15,403.15 613.37,402.69 613.23,402.01 613.58,401.62 613.43,400.95 613.67,400.49 613.55,399.83 613.88,399.43 613.72,398.75 614.07,398.36 613.87,397.65 614.17,397.24 614.1,396.6 614.32,396.14 614.22,395.49 614.4,395 614.62,394.52 614.58,393.88 614.84,393.42 614.78,392.78 615.12,392.37 615.05,391.72 615.41,391.31 615.27,390.63 615.56,390.19 615.54,389.56 615.88,389.15 615.8,388.49 616,388 616.42,388.38 616.85,386.92 617.27,387.4 617.7,385.65 618.12,386.82 618.55,385 618.98,385.83 619.4,385 619.35,385.5 619.59,386.17 619.46,386.62 619.69,387.29 619.52,387.72 619.81,388.42 619.61,388.83 619.85,389.5 619.74,389.96 619.91,390.59 619.77,391.04 619.99,391.7 619.92,392.19 620.09,392.82 619.97,393.28 620.24,393.96 620.05,394.38 620.33,395.07 620.19,395.52 620.34,396.14 620.21,396.6 620.46,397.27 620.3,397.71 620.55,398.38 620.44,398.85 620.63,399.49 620.6,400 620.84,400.07 621.08,401.83 621.31,400.71 621.55,402.42 621.79,401.73 622.02,403.38 622.26,402.91 622.5,403.75 622.74,403.3 622.59,402.64 622.94,402.25 622.81,401.59 623.11,401.18 623.03,400.55 623.26,400.1 623.16,399.46 623.53,399.09 623.42,398.44 623.74,398.04 623.57,397.36 623.88,396.95 623.79,396.32 624.14,395.94 624,395.27 624.34,394.88 624.23,394.23 624.4,393.75 624.9,394.07 625.4,392.47 625.9,393.47 626.4,392.23 626.9,392.5 627.08,392.86 627.26,390.84 627.45,391.78 627.63,389.96 627.81,390.37 627.99,388.86 628.18,389.34 628.36,387.45 628.54,388.38 628.72,386.67 628.91,387.24 629.09,385.66 629.27,386.38 629.45,384.71 629.64,385.15 629.82,383.86 630,383.75 630.18,383.26 630.01,382.58 630.22,382.11 630.12,381.47 630.32,381 630.21,380.35 630.39,379.86 630.27,379.21 630.51,378.76 630.41,378.12 630.64,377.66 630.51,377 630.7,376.52 630.54,375.84 630.78,375.39 630.67,374.74 630.94,374.31 630.73,373.61 630.97,373.16 630.87,372.51 631,372 631.22,371.52 631.11,370.85 631.44,370.43 631.33,369.76 631.64,369.33 631.5,368.64 631.77,368.19 631.71,367.55 631.96,367.09 631.88,366.43 632.18,365.99 632.06,365.32 632.41,364.91 632.31,364.25 632.5,363.75 632.66,364.34 632.56,364.79 632.83,365.44 632.71,365.87 633,366.54 632.92,366.99 633.21,367.66 633.12,368.11 633.4,368.77 633.28,369.2 633.57,369.86 633.43,370.29 633.71,370.95 633.63,371.4 633.8,372 633.86,372.58 633.74,373.06 633.94,373.72 633.74,374.14 633.94,374.8 633.76,375.25 633.93,375.89 633.75,376.33 633.94,376.98 633.76,377.43 633.9,378.05 633.77,378.52 633.93,379.16 633.8,379.63 633.98,380.28 633.79,380.71 633.96,381.36 633.74,381.77 634,382.47 633.75,382.87 634.02,383.57 633.83,384.01 633.97,384.63 633.85,385.11 634.02,385.75 633.8,386.17 634,386.83 633.83,387.27 634.04,387.94 633.81,388.35 634.01,389.01 633.8,389.44 634.02,390.11 633.83,390.55 634.02,391.2 633.89,391.67 634.09,392.33 633.84,392.73 634.08,393.42 633.91,393.86 634.03,394.47 633.91,394.95 634.05,395.58 633.91,396.04 634.08,396.68 633.94,397.15 634.08,397.77 633.89,398.21 634.07,398.86 633.88,399.29 634.12,399.98 633.9,400.39 634.1,401.05 633.93,401.51 634.15,402.17 633.95,402.6 634.09,403.23 633.91,403.67 634.17,404.37 633.97,404.8 634.11,405.42 633.93,405.86 634.17,406.55 634.01,407 634.15,407.62 634.02,408.09 634.21,408.75 634.02,409.18 634.23,409.85 633.97,410.25 634.16,410.9 633.99,411.34 634.2,412.01 633.99,412.44 634.25,413.13 634.04,413.56 634.18,414.18 633.99,414.61 634.22,415.29 634,415.71 634.26,416.4 634.02,416.81 634.28,417.51 634.04,417.92 634.25,418.58 634.11,419.04 634.28,419.69 634.08,420.12 634.27,420.77 634.04,421.18 634.25,421.85 634.06,422.29 634.25,422.94 634.08,423.39 634.2,424 634.9,424 635.03,423.52 634.83,422.85 635.01,422.41 634.77,421.71 635.03,421.31 634.82,420.64 635,420.19 634.87,419.56 635.01,419.09 634.84,418.44 635.01,417.98 634.86,417.34 635.01,416.88 634.83,416.22 635.06,415.8 634.88,415.14 635.03,414.68 634.86,414.03 635.06,413.59 634.82,412.9 635.05,412.48 634.89,411.84 635.11,411.41 634.91,410.74 635.09,410.29 634.9,409.63 635.12,409.2 634.89,408.52 635.12,408.1 634.93,407.44 635.12,406.99 634.9,406.31 635.1,405.88 634.89,405.2 635.14,404.8 634.95,404.14 635.1,403.66 634.94,403.02 635.1,402.56 634.97,401.93 635.11,401.46 634.97,400.83 635.16,400.38 634.95,399.71 635.11,399.25 634.97,398.62 635.15,398.17 634.97,397.51 635.13,397.05 635,396.43 635.12,395.94 634.92,395.27 635.19,394.88 635.02,394.22 635.2,393.77 634.94,393.07 635.19,392.66 635.03,392.02 635.19,391.56 635,390.9 635.17,390.44 635,389.79 635.16,389.33 634.97,388.67 635.22,388.26 635,387.58 635.26,387.18 635.01,386.48 635.2,386.04 635.05,385.4 635.2,384.93 635.08,384.31 635.26,383.86 635.01,383.16 635.22,382.73 635.08,382.1 635.26,381.65 635.02,380.96 635.3,380.57 635.09,379.9 635.29,379.46 635.04,378.76 635.29,378.35 635.09,377.68 635.25,377.22 635.05,376.56 635.26,376.13 635.1,375.48 635.29,375.04 635.11,374.38 635.33,373.95 635.13,373.28 635.26,372.81 635.1,372.16 635.32,371.74 635.08,371.05 635.33,370.64 635.08,369.94 635.36,369.55 635.13,368.86 635.33,368.42 635.17,367.78 635.31,367.31 635.13,366.65 635.3,366.2 635.13,365.55 635.31,365.1 635.16,364.46 635.4,364.04 635.2,363.38 635.32,362.89 635.17,362.26 635.34,361.8 635.15,361.14 635.33,360.69 635.15,360.03 635.41,359.63 635.16,358.93 635.38,358.51 635.21,357.86 635.41,357.42 635.2,356.74 635.3,356.25 635.43,356.85 635.29,357.3 635.51,357.95 635.34,358.38 635.62,359.07 635.39,359.47 635.63,360.14 635.52,360.6 635.74,361.25 635.58,361.69 635.8,362.35 635.69,362.81 635.85,363.43 635.75,363.9 635.96,364.55 635.76,364.97 636.08,365.68 635.85,366.07 636.17,366.78 635.92,367.17 636.21,367.86 636.01,368.28 636.23,368.93 636.1,369.38 636.25,370 636.41,369.51 636.27,368.85 636.51,368.41 636.31,367.72 636.6,367.31 636.44,366.64 636.68,366.2 636.57,365.55 636.84,365.13 636.7,364.47 636.87,363.99 636.73,363.33 636.99,362.9 636.89,362.27 637.11,361.82 636.96,361.15 637.21,360.71 637.06,360.05 637.3,359.61 637.15,358.94 637.39,358.5 637.29,357.86 637.47,357.39 637.31,356.72 637.5,356.25 637.65,355.77 637.53,355.13 637.76,354.7 637.6,354.03 637.78,353.57 637.66,352.93 637.88,352.49 637.75,351.85 638,351.42 637.86,350.77 638.08,350.33 637.96,349.69 638.17,349.24 638,348.58 638.21,348.13 638.11,347.5 638.3,347.04 638.19,346.41 638.46,346 638.27,345.32 638.53,344.91 638.33,344.22 638.5,343.75 638.59,343.24 638.42,342.57 638.71,342.18 638.56,341.53 638.79,341.09 638.6,340.42 638.79,339.96 638.61,339.29 638.89,338.89 638.69,338.21 638.91,337.77 638.75,337.12 638.96,336.67 638.86,336.05 639.06,335.6 639,335 639,334.41 639.21,333.94 639.08,333.27 639.28,332.8 639.13,332.12 639.39,331.68 639.21,330.98 639.51,330.56 639.32,329.86 639.6,329.43 639.41,328.73 639.73,328.33 639.58,327.65 639.82,327.19 639.67,326.51 639.8,326 639.95,325.5 639.74,324.79 640.02,324.36 639.85,323.68 640.03,323.19 639.85,322.5 640,322 640.23,321.54 640.06,320.84 640.33,320.4 640.26,319.76 640.52,319.31 640.44,318.67 640.76,318.25 640.67,317.6 640.96,317.17 640.79,316.48 641,316 641.5,316.57 642,315.71 642.5,316.25 642.72,315.77 642.62,315.11 642.98,314.72 642.94,314.09 643.18,313.62 643.19,313.03 643.5,312.6 643.5,312 643.81,312.03 644.11,313.62 644.42,312.91 644.72,314.65 645.03,313.79 645.33,315.25 645.64,314.43 645.94,316.44 646.25,316.25 646.17,315.64 646.46,315.23 646.23,314.53 646.47,314.09 646.37,313.47 646.56,313.01 646.44,312.37 646.71,311.95 646.49,311.26 646.71,310.81 646.63,310.2 646.87,309.76 646.66,309.07 646.91,308.64 646.76,307.99 646.9,307.5 647.1,306.98 647.04,306.3 647.4,305.86 647.32,305.17 647.7,304.75 647.67,304.09 647.95,303.61 648,303 648.4,302.93 648.8,304.68 649.2,303.5 649.6,304.96 650,305 649.98,304.41 650.18,303.94 650.04,303.28 650.29,302.84 650.14,302.17 650.36,301.72 650.27,301.08 650.48,300.62 650.33,299.95 650.52,299.47 650.41,298.83 650.7,298.42 650.55,297.75 650.71,297.26 650.58,296.6 650.82,296.16 650.71,295.51 650.93,295.06 650.8,294.4 651.03,293.95 650.87,293.28 651.16,292.86 650.92,292.14 651.17,291.7 651.05,291.05 651.33,290.63 651.25,290 651.18,290.48 651.51,291.18 651.34,291.6 651.64,292.29 651.51,292.73 651.74,293.38 651.6,293.82 651.93,294.52 651.73,294.92 652.05,295.62 651.92,296.07 652.2,296.74 652.02,297.15 652.31,297.83 652.17,298.27 652.43,298.94 652.31,299.39 652.57,300.05 652.49,300.52 652.7,301.16 652.61,301.62 652.9,302.31 652.73,302.72 652.98,303.38 652.89,303.85 653.11,304.49 653.1,305 653.09,304.4 653.32,303.94 653.28,303.32 653.54,302.88 653.39,302.2 653.65,301.75 653.53,301.09 653.79,300.65 653.72,300.01 653.92,299.53 653.86,298.9 654.09,298.45 653.97,297.78 654.27,297.36 654.1,296.67 654.4,296.25 654.25,295.57 654.57,295.16 654.49,294.52 654.69,294.04 654.59,293.39 654.92,292.98 654.76,292.3 655.05,291.87 655,291.25 654.99,291.74 655.29,292.42 655.18,292.86 655.41,293.49 655.25,293.91 655.55,294.58 655.47,295.03 655.68,295.66 655.64,296.13 655.86,296.76 655.74,297.2 656.01,297.85 655.93,298.31 656.16,298.95 656.06,299.39 656.25,300 656.49,299.52 656.34,298.82 656.63,298.37 656.54,297.71 656.91,297.3 656.76,296.6 657.03,296.14 656.94,295.48 657.31,295.08 657.19,294.4 657.44,293.93 657.41,293.29 657.69,292.84 657.55,292.15 657.9,291.73 657.76,291.03 658.07,290.6 658.1,290 658.1,289.41 658.39,288.98 658.23,288.31 658.52,287.88 658.4,287.22 658.68,286.79 658.62,286.16 658.85,285.7 658.79,285.08 659.04,284.63 658.93,283.97 659.19,283.53 659.07,282.87 659.33,282.43 659.24,281.79 659.47,281.33 659.37,280.68 659.69,280.28 659.52,279.59 659.81,279.16 659.73,278.52 660.04,278.11 660,277.5 660.5,277.21 661,278.39 661.5,277.82 662,278.92 662.5,278.75 662.42,278.14 662.65,277.71 662.5,277.07 662.76,276.66 662.61,276.01 662.86,275.6 662.7,274.94 662.96,274.53 662.78,273.87 663.01,273.44 662.85,272.79 663.09,272.36 662.94,271.72 663.1,271.25 663.33,271.51 663.57,269.35 663.8,270.15 664.03,268.27 664.27,269.48 664.5,268 664.68,267.93 664.87,269.58 665.05,268.96 665.24,271.07 665.42,270.28 665.61,271.57 665.79,271.14 665.98,273.04 666.16,272.04 666.35,273.94 666.53,272.98 666.72,274.93 666.9,275 666.8,274.38 667.01,273.93 666.92,273.32 667.06,272.84 666.96,272.22 667.14,271.76 666.96,271.09 667.16,270.64 666.98,269.97 667.23,269.55 667.1,268.91 667.26,268.44 667.09,267.78 667.37,267.38 667.19,266.71 667.34,266.23 667.18,265.58 667.41,265.14 667.21,264.47 667.48,264.06 667.29,263.39 667.51,262.95 667.32,262.28 667.57,261.85 667.5,261.25 667.65,260.19 667.8,261.09 667.95,259.28 668.1,259.94 668.25,258.25 668.4,258.83 668.55,256.99 668.7,257.92 668.85,256.16 669,256 669.24,256.18 669.48,254.41 669.73,255.4 669.97,253.08 670.21,254.22 670.45,252.53 670.69,252.99 670.93,251.51 671.17,252.1 671.42,250.52 671.66,250.96 671.9,250 671.79,249.37 672.05,248.95 671.87,248.29 672.11,247.86 671.91,247.18 672.11,246.73 671.95,246.07 672.17,245.63 671.92,244.92 672.14,244.49 671.96,243.82 672.23,243.41 672.04,242.73 672.22,242.27 672.05,241.61 672.3,241.19 672.12,240.52 672.2,240 672.33,239.51 672.13,238.83 672.34,238.39 672.16,237.72 672.42,237.3 672.23,236.63 672.45,236.19 672.25,235.51 672.48,235.07 672.23,234.37 672.45,233.93 672.27,233.26 672.56,232.86 672.35,232.18 672.5,231.7 672.4,231.08 672.63,230.64 672.5,230 672.45,229.35 672.5,228.75 672.66,228.27 672.48,227.59 672.7,227.13 672.54,226.47 672.69,225.98 672.53,225.31 672.73,224.85 672.62,224.2 672.86,223.77 672.63,223.06 672.91,222.64 672.8,222 672.79,221.38 673.12,220.95 673.12,220.34 673.45,219.92 673.34,219.24 673.64,218.8 673.62,218.17 673.92,217.73 673.88,217.1 674.17,216.65 674.19,216.05 674.51,215.62 674.5,215 674.75,213.97 675,214.88 675.25,213.09 675.5,213 675.75,214.13 676,213.58 676.25,215.1 676.5,214.56 676.75,216.26 677,216 677.16,216.08 677.31,217.79 677.47,216.86 677.62,218.4 677.78,217.95 677.93,219.64 678.09,218.6 678.24,220.55 678.4,220.5 678.31,219.9 678.51,219.47 678.22,218.75 678.46,218.34 678.25,217.67 678.38,217.19 678.22,216.55 678.33,216.07 678.21,215.45 678.35,214.98 678.14,214.31 678.32,213.87 678.11,213.2 678.24,212.72 678.05,212.07 678.27,211.64 678.04,210.96 678.23,210.52 677.99,209.84 678.24,209.43 677.94,208.71 678.18,208.3 677.96,207.62 678.11,207.16 677.92,206.51 678,206 677.83,206.38 677.67,204.32 677.5,204.9 677.33,203.19 677.17,203.64 677,201.72 676.83,202.45 676.67,200.85 676.5,201 676.75,200.52 676.65,199.85 676.94,199.4 676.86,198.73 677.13,198.26 677.1,197.63 677.34,197.15 677.26,196.48 677.5,196 677.51,195.49 677.13,194.75 677.21,194.28 676.92,193.6 677,193.13 676.8,192.5 676.96,192.3 677.11,194.24 677.27,193.58 677.43,195.58 677.59,194.85 677.74,196.51 677.9,195.39 678.06,197.43 678.21,196.62 678.37,198.8 678.53,197.92 678.69,199.65 678.84,198.67 679,200 679.19,200.59 679.08,201.02 679.39,201.68 679.3,202.12 679.61,202.78 679.48,203.19 679.78,203.85 679.69,204.28 680,204.95 679.93,205.39 680.21,206.04 680.12,206.48 680.44,207.14 680.3,207.55 680.62,208.22 680.5,208.64 680.8,209.29 680.73,209.74 680.96,210.36 680.86,210.79 681.2,211.47 681.1,211.9 681.3,212.5 681.38,212.01 681.14,211.33 681.32,210.89 681.17,210.26 681.35,209.82 681.11,209.15 681.3,208.71 681.04,208.03 681.29,207.63 681,206.92 681.17,206.48 681.01,205.85 681.21,205.42 680.94,204.73 681.11,204.29 680.97,203.66 681.09,203.19 680.94,202.57 681.07,202.1 680.84,201.43 681.05,201.01 680.84,200.35 680.98,199.88 680.81,199.25 681.03,198.83 680.75,198.13 680.94,197.7 680.74,197.04 680.94,196.62 680.8,196 680.64,195.4 680.79,194.97 680.56,194.33 680.73,193.92 680.5,193.28 680.63,192.84 680.43,192.22 680.56,191.78 680.35,191.15 680.45,190.7 680.29,190.09 680.43,189.66 680.22,189.03 680.31,188.57 680.2,188 680.14,187.43 680.4,187.04 680.3,186.45 680.51,186.04 680.5,185.5 680.86,184.25 681.22,185.09 681.58,183.57 681.94,184.76 682.3,183.5 682.26,182.91 682.46,182.46 682.27,181.78 682.54,181.37 682.38,180.71 682.56,180.25 682.44,179.61 682.65,179.17 682.48,178.5 682.71,178.07 682.58,177.42 682.81,176.99 682.61,176.31 682.85,175.88 682.71,175.24 682.94,174.8 682.73,174.11 682.97,173.68 682.79,173.01 683.09,172.62 683,172 683.07,171.43 683.42,171.02 683.38,170.38 683.67,169.94 683.64,169.31 684,168.91 683.97,168.28 684.32,167.87 684.24,167.21 684.65,166.84 684.63,166.21 684.94,165.78 684.89,165.14 685.24,164.72 685.16,164.07 685.54,163.68 685.6,163.1 685.54,163.59 685.8,164.27 685.61,164.69 685.83,165.35 685.67,165.78 685.93,166.46 685.72,166.87 685.99,167.55 685.82,167.97 685.99,168.6 685.86,169.05 686.11,169.73 685.92,170.14 686.2,170.83 686.05,171.27 686.22,171.9 686.12,172.37 686.34,173.03 686.18,173.46 686.34,174.08 686.19,174.52 686.45,175.2 686.32,175.66 686.53,176.3 686.33,176.72 686.58,177.39 686.46,177.85 686.67,178.49 686.49,178.92 686.72,179.58 686.51,179.98 686.81,180.69 686.59,181.08 686.82,181.75 686.7,182.21 686.92,182.86 686.8,183.32 687.03,183.98 686.85,184.4 687.03,185.04 686.91,185.49 687.1,186.13 686.93,186.56 687.2,187.24 687.03,187.67 687.25,188.33 687.14,188.79 687.31,189.42 687.13,189.84 687.42,190.54 687.2,190.94 687.44,191.6 687.33,192.07 687.49,192.69 687.36,193.14 687.5,193.75 687.65,193.25 687.53,192.6 687.78,192.16 687.64,191.49 687.9,191.05 687.74,190.38 688,189.94 687.86,189.27 688.16,188.86 688.06,188.22 688.26,187.75 688.14,187.09 688.4,186.65 688.26,185.99 688.51,185.55 688.41,184.91 688.68,184.47 688.54,183.8 688.8,183.37 688.61,182.68 688.91,182.26 688.77,181.6 689.07,181.18 688.89,180.5 689.18,180.08 689.06,179.42 689.27,178.95 689.12,178.29 689.35,177.83 689.23,177.17 689.48,176.73 689.38,176.09 689.61,175.64 689.47,174.97 689.77,174.56 689.6,173.88 689.89,173.46 689.74,172.78 690.03,172.37 689.9,171.7 690.11,171.24 689.97,170.58 690.23,170.14 690.09,169.47 690.36,169.04 690.29,168.42 690.47,167.93 690.35,167.28 690.68,166.88 690.6,166.25 690.55,165.64 690.79,165.2 690.63,164.54 690.88,164.11 690.66,163.41 690.88,162.95 690.8,162.33 691.01,161.87 690.87,161.22 691.09,160.77 690.92,160.09 691.11,159.63 690.96,158.97 691.19,158.52 691.04,157.86 691.24,157.4 691.08,156.73 691.25,156.25 691.37,156.85 691.19,157.28 691.43,157.94 691.27,158.38 691.58,159.09 691.38,159.51 691.56,160.14 691.46,160.61 691.69,161.28 691.55,161.72 691.76,162.38 691.63,162.83 691.82,163.47 691.64,163.9 691.89,164.57 691.72,165.01 691.94,165.66 691.78,166.1 692.01,166.76 691.85,167.2 692.17,167.91 691.92,168.3 692.2,168.99 692.05,169.44 692.25,170.08 692.08,170.52 692.34,171.2 692.14,171.61 692.38,172.28 692.26,172.74 692.52,173.42 692.32,173.84 692.57,174.51 692.44,174.97 692.6,175.59 692.5,176.06 692.75,176.73 692.52,177.13 692.76,177.8 692.58,178.23 692.81,178.89 692.69,179.35 692.97,180.05 692.78,180.47 693.05,181.15 692.83,181.55 693.03,182.2 692.93,182.67 693.15,183.33 693.01,183.78 693.25,184.44 693.09,184.89 693.32,185.55 693.16,185.98 693.33,186.61 693.2,187.07 693.41,187.72 693.28,188.18 693.55,188.86 693.35,189.28 693.59,189.94 693.47,190.41 693.67,191.05 693.54,191.51 693.75,192.16 693.61,192.61 693.82,193.26 693.75,193.75 693.69,193.15 693.88,192.71 693.71,192.04 693.91,191.6 693.8,190.98 694.03,190.55 693.83,189.87 694.07,189.45 693.82,188.75 694.08,188.34 693.94,187.7 694.09,187.22 693.92,186.56 694.14,186.13 694,185.49 694.22,185.06 694.08,184.42 694.26,183.96 694.12,183.32 694.31,182.87 694.14,182.21 694.34,181.77 694.21,181.13 694.39,180.68 694.26,180.04 694.41,179.57 694.3,178.94 694.53,178.51 694.32,177.83 694.58,177.42 694.41,176.77 694.63,176.33 694.42,175.65 694.66,175.23 694.45,174.55 694.7,174.13 694.53,173.47 694.75,173.04 694.59,172.38 694.75,171.92 694.64,171.3 694.81,170.83 694.64,170.18 694.85,169.73 694.65,169.06 694.87,168.63 694.73,167.99 694.93,167.54 694.78,166.89 695.03,166.48 694.81,165.79 695.01,165.35 694.9,164.72 695.11,164.28 694.88,163.59 695.1,163.16 694.96,162.52 695.21,162.1 694.99,161.41 695.22,160.99 695.03,160.32 695.28,159.9 695.07,159.22 695.28,158.78 695.11,158.12 695.37,157.71 695.21,157.06 695.38,156.6 695.27,155.97 695.49,155.54 695.28,154.86 695.48,154.41 695.35,153.78 695.53,153.32 695.41,152.69 695.58,152.23 695.45,151.59 695.7,151.18 695.43,150.46 695.6,150 695.77,150.32 695.95,148.37 696.12,149.14 696.3,147.19 696.48,148.39 696.65,146.2 696.83,147.23 697,146 697.29,146 697.58,147.64 697.88,146.52 698.17,148.65 698.46,147.9 698.75,148.75 698.96,148.28 698.84,147.63 699.08,147.18 698.96,146.53 699.31,146.14 699.16,145.47 699.44,145.04 699.33,144.39 699.69,144.01 699.51,143.31 699.85,142.93 699.69,142.25 700.04,141.86 700,141.25 700.52,140.76 701.03,142.27 701.55,141.03 702.07,142.9 702.58,141.42 703.1,142.5 703.23,143.09 703.07,143.51 703.36,144.19 703.18,144.59 703.43,145.25 703.28,145.68 703.61,146.38 703.46,146.8 703.72,147.47 703.57,147.89 703.77,148.52 703.66,148.97 703.88,149.61 703.76,150.05 704.05,150.73 703.85,151.13 704.14,151.81 703.99,152.23 704.26,152.9 704.06,153.3 704.36,153.98 704.15,154.38 704.48,155.07 704.31,155.49 704.52,156.12 704.4,156.57 704.7,157.25 704.54,157.67 704.78,158.32 704.6,158.73 704.91,159.42 704.79,159.86 704.99,160.49 704.9,160.95 705.06,161.56 704.93,161.99 705.2,162.66 705.06,163.09 705.31,163.75 705.19,164.19 705.4,164.82 705.3,165.28 705.57,165.94 705.38,166.35 705.62,167 705.6,167.5 705.6,166.92 705.79,166.46 705.65,165.8 705.92,165.38 705.77,164.72 706.07,164.31 705.93,163.66 706.17,163.22 706.05,162.58 706.29,162.14 706.15,161.48 706.36,161.02 706.19,160.35 706.48,159.94 706.38,159.31 706.64,158.88 706.45,158.2 706.75,157.8 706.59,157.12 706.83,156.69 706.64,156.01 706.94,155.6 706.9,155 706.83,155.47 707.12,156.14 707,156.57 707.27,157.23 707.18,157.69 707.4,158.32 707.36,158.8 707.65,159.47 707.49,159.89 707.78,160.56 707.66,160.99 707.89,161.63 707.82,162.1 708.06,162.74 707.9,163.16 708.21,163.84 708.1,164.28 708.4,164.96 708.2,165.35 708.53,166.04 708.43,166.49 708.67,167.14 708.55,167.57 708.86,168.25 708.7,168.67 708.98,169.33 708.83,169.75 709.1,170.42 708.99,170.86 709.28,171.53 709.11,171.93 709.42,172.62 709.31,173.06 709.61,173.74 709.49,174.17 709.75,174.83 709.58,175.24 709.88,175.91 709.75,176.35 710.05,177.02 710,177.5 709.93,176.87 710.24,176.47 710.06,175.78 710.3,175.34 710.22,174.71 710.43,174.24 710.29,173.58 710.62,173.19 710.48,172.52 710.72,172.07 710.56,171.4 710.79,170.95 710.7,170.32 710.98,169.89 710.8,169.2 711.05,168.76 710.91,168.1 711.18,167.67 711.06,167.01 711.31,166.58 711.14,165.89 711.45,165.49 711.27,164.81 711.58,164.4 711.44,163.73 711.73,163.31 711.53,162.62 711.82,162.2 711.69,161.54 711.9,161.07 711.78,160.43 712.08,160.01 711.89,159.32 712.16,158.89 712.07,158.26 712.3,157.8 712.12,157.12 712.38,156.68 712.26,156.03 712.51,155.59 712.5,155 712.44,154.41 712.59,153.94 712.48,153.31 712.66,152.86 712.45,152.18 712.76,151.8 712.56,151.13 712.73,150.67 712.53,150 712.76,149.57 712.62,148.94 712.82,148.49 712.68,147.86 712.84,147.39 712.69,146.75 712.89,146.3 712.68,145.62 712.91,145.2 712.79,144.57 713.01,144.14 712.8,143.46 713.04,143.04 712.82,142.36 713.08,141.95 712.89,141.28 713.05,140.82 712.88,140.16 713.12,139.74 712.94,139.08 713.18,138.66 712.96,137.98 713.1,137.5 713.53,137.59 713.97,136.11 714.4,136.25 714.65,136.65 714.9,134.59 715.15,135.26 715.4,133.53 715.65,134.24 715.9,132.44 716.15,133.11 716.4,131.41 716.65,132.43 716.9,131.25 716.91,131.75 717.23,132.43 717.11,132.86 717.35,133.49 717.31,133.97 717.57,134.61 717.43,135.03 717.77,135.72 717.66,136.15 717.97,136.82 717.87,137.26 718.11,137.9 718.01,138.34 718.36,139.03 718.2,139.44 718.52,140.12 718.37,140.53 718.68,141.2 718.54,141.62 718.9,142.32 718.79,142.75 719.06,143.4 718.93,143.83 719.24,144.5 719.18,144.96 719.48,145.63 719.33,146.04 719.63,146.71 719.51,147.13 719.86,147.83 719.75,148.26 719.99,148.9 720,149.4 719.98,148.82 720.17,148.35 720.01,147.69 720.28,147.28 720.07,146.58 720.33,146.16 720.18,145.5 720.41,145.06 720.26,144.41 720.51,143.98 720.29,143.28 720.59,142.87 720.43,142.21 720.65,141.77 720.45,141.08 720.7,140.66 720.51,139.97 720.82,139.58 720.6,138.88 720.89,138.47 720.68,137.79 720.97,137.38 720.81,136.71 721.03,136.27 720.83,135.58 721.09,135.16 720.95,134.51 721.12,134.03 720.99,133.39 721.27,132.97 721.1,132.31 721.28,131.84 721.25,131.25 721.29,130.67 721.53,130.2 721.46,129.55 721.83,129.16 721.67,128.46 721.99,128.04 721.89,127.38 722.18,126.94 722.1,126.28 722.42,125.86 722.39,125.24 722.67,124.79 722.6,124.15 722.85,123.69 722.82,123.07 723.08,122.61 722.99,121.95 723.33,121.54 723.26,120.89 723.55,120.45 723.47,119.8 723.71,119.33 723.75,118.75 723.77,118.15 724.1,117.73 724.07,117.1 724.39,116.67 724.35,116.03 724.68,115.61 724.62,114.96 724.95,114.54 724.83,113.86 725.19,113.45 725.17,112.83 725.48,112.39 725.44,111.75 725.72,111.31 725.67,110.66 725.95,110.21 725.92,109.58 726.28,109.18 726.19,108.51 726.52,108.09 726.46,107.44 726.8,107.03 726.76,106.39 727.1,105.97 726.95,105.27 727.36,104.89 727.22,104.2 727.5,103.75 727.69,104.32 727.56,104.71 727.87,105.35 727.82,105.78 728.08,106.39 728.03,106.82 728.35,107.46 728.21,107.85 728.53,108.49 728.46,108.91 728.72,109.52 728.75,110 728.78,109.41 729.07,108.97 729.04,108.35 729.35,107.93 729.24,107.26 729.56,106.84 729.51,106.21 729.82,105.78 729.75,105.14 730.02,104.69 729.96,104.05 730.3,103.64 730.15,102.95 730.54,102.57 730.39,101.88 730.79,101.51 730.65,100.82 731.01,100.43 730.95,99.79 731.2,99.33 731.25,98.75 731.24,99.26 731.48,99.92 731.27,100.32 731.55,100.99 731.41,101.43 731.62,102.07 731.52,102.53 731.74,103.17 731.53,103.57 731.8,104.24 731.72,104.71 731.89,105.33 731.78,105.78 732.05,106.46 731.83,106.85 732.1,107.52 732,107.98 732.17,108.59 732.09,109.06 732.32,109.72 732.15,110.14 732.44,110.82 732.2,111.2 732.52,111.9 732.34,112.32 732.61,112.99 732.47,113.43 732.64,114.04 732.52,114.49 732.77,115.15 732.65,115.6 732.84,116.23 732.76,116.7 733,117.35 732.79,117.75 733.1,118.45 732.86,118.83 733.15,119.51 733.1,120 733.27,119.74 733.43,121.62 733.6,120.75 733.76,122.96 733.93,122.22 734.09,123.5 734.26,123.22 734.43,124.9 734.59,124.17 734.76,125.6 734.92,124.94 735.09,127.13 735.26,126.22 735.42,127.73 735.59,127.01 735.75,129.08 735.92,128.57 736.08,130.01 736.25,130 736.23,129.4 736.56,129.01 736.42,128.34 736.71,127.92 736.62,127.28 736.85,126.83 736.73,126.17 737.04,125.76 736.98,125.14 737.24,124.7 737.16,124.07 737.38,123.61 737.3,122.98 737.59,122.56 737.46,121.9 737.78,121.5 737.65,120.84 737.89,120.39 737.8,119.75 738.07,119.32 738.1,118.75 738.04,118.15 738.26,117.7 738.08,117.03 738.35,116.62 738.19,115.96 738.41,115.51 738.22,114.83 738.46,114.4 738.34,113.76 738.57,113.33 738.36,112.64 738.56,112.18 738.46,111.56 738.71,111.13 738.53,110.46 738.72,110 738.54,109.33 738.83,108.92 738.62,108.24 738.89,107.82 738.75,107.17 738.89,106.68 738.72,106.02 739.03,105.62 738.88,104.97 739.02,104.48 738.93,103.86 739.17,103.43 738.99,102.76 739.22,102.32 738.99,101.62 739.28,101.21 739.06,100.52 739.31,100.09 739.2,99.46 739.35,98.98 739.21,98.33 739.43,97.88 739.26,97.22 739.55,96.82 739.4,96.16 739.63,95.72 739.47,95.06 739.67,94.61 739.54,93.96 739.76,93.52 739.53,92.82 739.84,92.43 739.68,91.77 739.9,91.33 739.7,90.64 739.96,90.22 739.77,89.54 740.01,89.11 739.83,88.44 740.09,88.02 739.94,87.37 740.09,86.88 739.96,86.24 740.18,85.8 740.04,85.15 740.22,84.68 740.08,84.03 740.29,83.58 740.14,82.93 740.43,82.52 740.24,81.85 740.43,81.39 740.29,80.74 740.5,80.29 740.37,79.65 740.56,79.19 740.39,78.52 740.67,78.11 740.6,77.5 740.56,78 740.74,78.62 740.6,79.06 740.9,79.75 740.67,80.14 740.91,80.8 740.8,81.26 741.01,81.89 740.85,82.32 741.08,82.97 740.95,83.42 741.24,84.1 741.01,84.49 741.23,85.14 741.16,85.62 741.32,86.23 741.19,86.67 741.45,87.34 741.28,87.77 741.52,88.42 741.38,88.86 741.62,89.52 741.44,89.94 741.73,90.62 741.51,91.02 741.8,91.7 741.58,92.1 741.89,92.79 741.68,93.19 741.89,93.84 741.76,94.28 742.05,94.97 741.87,95.38 742.14,96.06 741.98,96.48 742.23,97.15 742.04,97.56 742.29,98.22 742.14,98.65 742.33,99.28 742.21,99.73 742.42,100.37 742.32,100.84 742.51,101.47 742.31,101.87 742.5,102.5 742.68,102.72 742.86,100.56 743.05,101.76 743.23,99.59 743.41,100.87 743.59,98.61 743.78,99.4 743.96,97.9 744.14,98.45 744.32,97.01 744.51,97.31 744.69,95.44 744.87,96.71 745.05,94.76 745.24,95.59 745.42,93.45 745.6,93.75 745.85,95.13 746.1,93.93 746.35,95.91 746.6,95.35 746.85,97.09 747.1,96.22 747.35,97.97 747.6,97.19 747.85,98.91 748.1,98.75 747.97,98.12 748.2,97.69 748.05,97.05 748.28,96.62 748.08,95.95 748.34,95.54 748.12,94.86 748.36,94.44 748.13,93.74 748.4,93.34 748.21,92.68 748.36,92.21 748.23,91.57 748.46,91.15 748.29,90.49 748.43,90.01 748.25,89.35 748.53,88.95 748.33,88.28 748.51,87.83 748.32,87.16 748.57,86.74 748.34,86.06 748.6,85.65 748.42,84.99 748.59,84.52 748.47,83.9 748.66,83.45 748.49,82.79 748.65,82.33 748.45,81.66 748.72,81.25 748.52,80.58 748.75,80.16 748.55,79.48 748.79,79.06 748.61,78.4 748.76,77.93 748.66,77.31 748.79,76.83 748.75,76.25 748.7,75.67 748.88,75.22 748.78,74.62 748.97,74.18 748.76,73.51 749.05,73.13 748.89,72.49 749,72 749.19,71.51 749.06,70.84 749.25,70.35 749.17,69.7 749.4,69.24 749.26,68.56 749.53,68.12 749.38,67.43 749.62,66.97 749.49,66.3 749.77,65.86 749.62,65.18 749.87,64.72 749.74,64.05 750.01,63.6 750,63 749.94,62.39 750.28,62 750.12,61.32 750.39,60.89 750.33,60.28 750.53,59.81 750.4,59.15 750.68,58.73 750.58,58.09 750.88,57.68 750.73,57.01 750.99,56.58 751,56 751.25,55.08 751.5,55.39 751.75,53.56 752,54 752.06,53.49 751.82,52.81 752.01,52.37 751.8,51.71 751.9,51.22 751.76,50.59 751.91,50.14 751.69,49.46 751.86,49.02 751.6,48.33 751.78,47.88 751.56,47.21 751.72,46.76 751.49,46.08 751.62,45.61 751.5,45 751.77,44.8 752.05,46.31 752.32,45.88 752.59,47.64 752.86,46.76 753.14,48.29 753.41,47.38 753.68,49.11 753.95,48.64 754.23,50.01 754.5,50 754.55,49.4 754.86,48.96 754.8,48.3 755.14,47.87 755.05,47.2 755.37,46.76 755.34,46.12 755.72,45.71 755.65,45.05 755.92,44.58 755.91,43.95 756.2,43.49 756.18,42.85 756.53,42.43 756.49,41.78 756.74,41.31 756.72,40.67 757.02,40.22 757.02,39.59 757.32,39.14 757.3,38.51 757.5,38 757.57,38.58 757.44,39.04 757.64,39.68 757.42,40.09 757.68,40.77 757.53,41.22 757.67,41.84 757.49,42.27 757.73,42.95 757.51,43.35 757.8,44.05 757.54,44.44 757.75,45.09 757.56,45.52 757.82,46.2 757.65,46.64 757.81,47.27 757.62,47.7 757.84,48.36 757.73,48.82 757.88,49.44 757.68,49.86 757.92,50.54 757.72,50.96 757.92,51.6 757.78,52.06 757.97,52.7 757.83,53.16 758.03,53.81 757.84,54.24 758.01,54.86 757.81,55.29 758.07,55.97 757.92,56.42 758,57 758.17,57.58 758.11,58.03 758.44,58.69 758.4,59.15 758.66,59.78 758.56,60.2 758.9,60.88 758.84,61.32 759.12,61.97 759.03,62.39 759.36,63.06 759.3,63.51 759.6,64.16 759.45,64.56 759.83,65.25 759.69,65.65 760.02,66.32 759.91,66.74 760.23,67.4 760.2,67.87 760.49,68.52 760.5,69 760.38,69.46 760.6,70.12 760.49,70.58 760.64,71.2 760.51,71.66 760.69,72.29 760.58,72.75 760.79,73.4 760.58,73.81 760.85,74.5 760.64,74.91 760.87,75.57 760.72,76.01 760.93,76.66 760.74,77.08 760.93,77.72 760.75,78.15 761.02,78.83 760.8,79.24 761.06,79.92 760.83,80.31 761.03,80.96 760.85,81.38 761,82 761.17,81.92 761.33,79.98 761.5,81.01 761.67,79.39 761.83,80.26 762,78.27 762.17,78.85 762.33,77.19 762.5,77.95 762.67,76.32 762.83,76.7 763,75.17 763.17,75.91 763.33,74.2 763.5,74 763.63,73.51 763.47,72.86 763.67,72.4 763.5,71.74 763.74,71.32 763.59,70.66 763.75,70.19 763.64,69.56 763.87,69.13 763.68,68.46 763.84,67.99 763.7,67.34 763.93,66.91 763.71,66.22 763.93,65.78 763.83,65.16 763.99,64.69 763.84,64.04 764.07,63.6 764,63 764,62.4 764.32,61.99 764.16,61.3 764.5,60.89 764.31,60.19 764.62,59.77 764.5,59.1 764.82,58.69 764.76,58.06 765.05,57.62 764.94,56.97 765.14,56.48 765.1,55.86 765.35,55.41 765.22,54.74 765.59,54.35 765.45,53.68 765.74,53.24 765.6,52.56 765.95,52.16 765.8,51.48 766.1,51.06 766.03,50.42 766.26,49.95 766.16,49.3 766.47,48.88 766.33,48.2 766.68,47.81 766.49,47.1 766.8,46.68 766.76,46.06 767.05,45.62 767,45 766.99,45.49 767.25,46.13 767.16,46.57 767.44,47.22 767.38,47.69 767.63,48.32 767.54,48.76 767.84,49.43 767.76,49.88 768.03,50.52 767.89,50.94 768.19,51.6 768.07,52.03 768.4,52.71 768.31,53.15 768.55,53.78 768.43,54.21 768.76,54.89 768.61,55.3 768.89,55.95 768.77,56.37 769,57 769.16,56.52 768.99,55.86 769.19,55.41 768.99,54.73 769.23,54.3 769.1,53.66 769.37,53.24 769.12,52.53 769.36,52.11 769.2,51.45 769.44,51.02 769.27,50.35 769.54,49.94 769.39,49.29 769.56,48.82 769.44,48.18 769.62,47.72 769.53,47.1 769.68,46.62 769.56,45.98 769.77,45.54 769.65,44.9 769.85,44.45 769.63,43.76 769.91,43.35 769.75,42.69 769.99,42.26 769.81,41.59 770,41.14 769.87,40.49 770,40 770.16,39.49 770.1,38.85 770.39,38.41 770.35,37.78 770.69,37.36 770.53,36.67 770.89,36.27 770.76,35.59 771.09,35.17 770.97,34.5 771.34,34.1 771.23,33.44 771.54,33.01 771.44,32.35 771.71,31.89 771.61,31.23 771.96,30.82 771.82,30.14 772.2,29.75 772.07,29.07 772.35,28.63 772.34,28.01 772.5,27.5 772.7,28.11 772.57,28.53 772.86,29.19 772.82,29.66 773.03,30.27 773,30.75 773.28,31.4 773.21,31.85 773.43,32.47 773.38,32.93 773.67,33.59 773.5,33.99 773.79,34.65 773.77,35.13 774.07,35.79 773.88,36.18 774.18,36.85 774.13,37.31 774.41,37.96 774.32,38.41 774.5,39 774.67,39.61 774.57,40.06 774.83,40.71 774.78,41.19 774.98,41.81 774.93,42.3 775.14,42.92 775.06,43.38 775.37,44.07 775.26,44.51 775.54,45.18 775.38,45.6 775.67,46.27 775.57,46.72 775.82,47.37 775.69,47.81 776.02,48.5 776,49 776.02,48.43 776.21,47.97 776.1,47.33 776.37,46.91 776.24,46.25 776.5,45.83 776.37,45.18 776.7,44.79 776.58,44.14 776.82,43.7 776.72,43.07 776.98,42.64 776.8,41.96 777.13,41.57 777,40.92 777.2,40.46 777.1,39.83 777.39,39.42 777.29,38.78 777.5,38.33 777.39,37.69 777.63,37.25 777.53,36.61 777.79,36.19 777.71,35.56 777.95,35.12 777.83,34.48 778,34 778.4,35.18 778.8,34.45 779.2,35.98 779.6,35.13 780,36 780.1,36.61 779.93,37.06 780.18,37.75 779.97,38.18 780.24,38.88 780.05,39.32 780.22,39.97 780.05,40.41 780.26,41.08 780.13,41.56 780.29,42.2 780.12,42.65 780.39,43.35 780.16,43.77 780.44,44.48 780.19,44.89 780.42,45.57 780.28,46.03 780.5,46.71 780.34,47.17 780.53,47.82 780.38,48.29 780.52,48.91 780.38,49.38 780.5,50 780.75,50.93 781,50.09 781.25,52.37 781.5,52"/>
<path fill="#00f400" d="M100.25 688.15l3.75 3.75l-3.75 3.75l-3.75 -3.75zM129.75 685l3.75 3.75l-3.75 3.75l-3.75 -3.75zM131.9 682.5l3.75 3.75l-3.75 3.75l-3.75 -3.75zM135 678.75l3.75 3.75l-3.75 3.75l-3.75 -3.75zM136 676.5l3.75 3.75l-3.75 3.75l-3.75 -3.75zM135.6 671.5l3.75 3.75l-3.75 3.75l-3.75 -3.75zM139.75 665.65l3.75 3.75l-3.75 3.75l-3.75 -3.75zM182 664.45l3.75 3.75l-3.75 3.75l-3.75 -3.75zM183.7 663.45l3.75 3.75l-3.75 3.75l-3.75 -3.75zM199.75 661.25l3.75 3.75l-3.75 3.75l-3.75 -3.75zM248.75 660l3.75 3.75l-3.75 3.75l-3.75 -3.75zM256.9 658.15l3.75 3.75l-3.75 3.75l-3.75 -3.75zM261.9 655.65l3.75 3.75l-3.75 3.75l-3.75 -3.75zM293.75 653.75l3.75 3.75l-3.75 3.75l-3.75 -3.75zM296.9 652.25l3.75 3.75l-3.75 3.75l-3.75 -3.75zM311.9 652.5l3.75 3.75l-3.75 3.75l-3.75 -3.75zM320.6 652.5l3.75 3.75l-3.75 3.75l-3.75 -3.75zM321.25 648.75l3.75 3.75l-3.75 3.75l-3.75 -3.75zM326.9 648.15l3.75 3.75l-3.75 3.75l-3.75 -3.75zM330 647.5l3.75 3.75l-3.75 3.75l-3.75 -3.75zM331.9 643.15l3.75 3.75l-3.75 3.75l-3.75 -3.75zM335.6 636.25l3.75 3.75l-3.75 3.75l-3.75 -3.75zM338.75 632.5l3.75 3.75l-3.75 3.75l-3.75 -3.75zM361 628.15l3.75 3.75l-3.75 3.75l-3.75 -3.75zM373.1 621.25l3.75 3.75l-3.75 3.75l-3.75 -3.75zM375.6 618.75l3.75 3.75l-3.75 3.75l-3.75 -3.75zM378.75 615.65l3.75 3.75l-3.75 3.75l-3.75 -3.75zM381.9 610.65l3.75 3.75l-3.75 3.75l-3.75 -3.75zM408.1 608.75l3.75 3.75l-3.75 3.75l-3.75 -3.75zM410.6 605.65l3.75 3.75l-3.75 3.75l-3.75 -3.75zM411.25 603.15l3.75 3.75l-3.75 3.75l-3.75 -3.75zM414.4 597.5l3.75 3.75l-3.75 3.75l-3.75 -3.75zM415.6 595.65l3.75 3.75l-3.75 3.75l-3.75 -3.75zM420 590.65l3.75 3.75l-3.75 3.75l-3.75 -3.75zM425 588.75l3.75 3.75l-3.75 3.75l-3.75 -3.75zM451.9 587.5l3.75 3.75l-3.75 3.75l-3.75 -3.75zM454.4 583.15l3.75 3.75l-3.75 3.75l-3.75 -3.75zM456.25 580l3.75 3.75l-3.75 3.75l-3.75 -3.75zM459.4 575.65l3.75 3.75l-3.75 3.75l-3.75 -3.75zM458.75 569.35l3.75 3.75l-3.75 3.75l-3.75 -3.75zM461.25 565l3.75 3.75l-3.75 3.75l-3.75 -3.75zM461.25 556.85l3.75 3.75l-3.75 3.75l-3.75 -3.75zM466.25 555l3.75 3.75l-3.75 3.75l-3.75 -3.75zM467.5 547.5l3.75 3.75l-3.75 3.75l-3.75 -3.75zM462.5 555l3.75 3.75l-3.75 3.75l-3.75 -3.75zM465.6 553.75l3.75 3.75l-3.75 3.75l-3.75 -3.75zM467.5 546.25l3.75 3.75l-3.75 3.75l-3.75 -3.75zM470 542.5l3.75 3.75l-3.75 3.75l-3.75 -3.75zM471.9 536.85l3.75 3.75l-3.75 3.75l-3.75 -3.75zM473.75 535.65l3.75 3.75l-3.75 3.75l-3.75 -3.75zM478.1 535l3.75 3.75l-3.75 3.75l-3.75 -3.75zM479.4 528.75l3.75 3.75l-3.75 3.75l-3.75 -3.75zM481.25 526.25l3.75 3.75l-3.75 3.75l-3.75 -3.75zM483.75 524.35l3.75 3.75l-3.75 3.75l-3.75 -3.75zM491.25 523.15l3.75 3.75l-3.75 3.75l-3.75 -3.75zM491.9 517.5l3.75 3.75l-3.75 3.75l-3.75 -3.75zM493.75 514.35l3.75 3.75l-3.75 3.75l-3.75 -3.75zM495 509.35l3.75 3.75l-3.75 3.75l-3.75 -3.75zM498.1 507.5l3.75 3.75l-3.75 3.75l-3.75 -3.75zM501.25 505.65l3.75 3.75l-3.75 3.75l-3.75 -3.75zM501.9 501.25l3.75 3.75l-3.75 3.75l-3.75 -3.75zM511.25 493.75l3.75 3.75l-3.75 3.75l-3.75 -3.75zM513.75 490l3.75 3.75l-3.75 3.75l-3.75 -3.75zM516.25 486.85l3.75 3.75l-3.75 3.75l-3.75 -3.75zM519.4 483.15l3.75 3.75l-3.75 3.75l-3.75 -3.75zM521.25 481.25l3.75 3.75l-3.75 3.75l-3.75 -3.75zM525 479.35l3.75 3.75l-3.75 3.75l-3.75 -3.75zM525.6 473.75l3.75 3.75l-3.75 3.75l-3.75 -3.75zM528.1 470l3.75 3.75l-3.75 3.75l-3.75 -3.75zM530 463.75l3.75 3.75l-3.75 3.75l-3.75 -3.75zM533.1 459.35l3.75 3.75l-3.75 3.75l-3.75 -3.75zM540 456.85l3.75 3.75l-3.75 3.75l-3.75 -3.75zM520 483.75l3.75 3.75l-3.75 3.75l-3.75 -3.75zM524.4 479.35l3.75 3.75l-3.75 3.75l-3.75 -3.75zM527.5 471.25l3.75 3.75l-3.75 3.75l-3.75 -3.75zM529.4 468.15l3.75 3.75l-3.75 3.75l-3.75 -3.75zM534.4 458.15l3.75 3.75l-3.75 3.75l-3.75 -3.75zM541.9 454.35l3.75 3.75l-3.75 3.75l-3.75 -3.75zM553.75 451.25l3.75 3.75l-3.75 3.75l-3.75 -3.75zM580.6 449.35l3.75 3.75l-3.75 3.75l-3.75 -3.75zM583.1 448.15l3.75 3.75l-3.75 3.75l-3.75 -3.75zM588.1 445.65l3.75 3.75l-3.75 3.75l-3.75 -3.75zM590.6 442.5l3.75 3.75l-3.75 3.75l-3.75 -3.75zM592.5 438.15l3.75 3.75l-3.75 3.75l-3.75 -3.75zM593.1 432.5l3.75 3.75l-3.75 3.75l-3.75 -3.75zM596.25 428.75l3.75 3.75l-3.75 3.75l-3.75 -3.75zM598.1 426.85l3.75 3.75l-3.75 3.75l-3.75 -3.75zM599.4 418.75l3.75 3.75l-3.75 3.75l-3.75 -3.75zM600 410.65l3.75 3.75l-3.75 3.75l-3.75 -3.75zM600 403.75l3.75 3.75l-3.75 3.75l-3.75 -3.75zM603.1 401.25l3.75 3.75l-3.75 3.75l-3.75 -3.75zM606.25 398.15l3.75 3.75l-3.75 3.75l-3.75 -3.75zM607.5 391.85l3.75 3.75l-3.75 3.75l-3.75 -3.75zM608.1 389.35l3.75 3.75l-3.75 3.75l-3.75 -3.75zM613.75 387.5l3.75 3.75l-3.75 3.75l-3.75 -3.75zM615 381.25l3.75 3.75l-3.75 3.75l-3.75 -3.75zM615.6 378.75l3.75 3.75l-3.75 3.75l-3.75 -3.75zM618.1 376.25l3.75 3.75l-3.75 3.75l-3.75 -3.75zM630 376.25l3.75 3.75l-3.75 3.75l-3.75 -3.75zM630 368.15l3.75 3.75l-3.75 3.75l-3.75 -3.75zM630.6 365.65l3.75 3.75l-3.75 3.75l-3.75 -3.75zM631.25 355.65l3.75 3.75l-3.75 3.75l-3.75 -3.75zM631.9 347.5l3.75 3.75l-3.75 3.75l-3.75 -3.75zM636.9 336.85l3.75 3.75l-3.75 3.75l-3.75 -3.75zM638.1 329.75l3.75 3.75l-3.75 3.75l-3.75 -3.75zM639.4 321.25l3.75 3.75l-3.75 3.75l-3.75 -3.75zM640 317.5l3.75 3.75l-3.75 3.75l-3.75 -3.75zM640 315l3.75 3.75l-3.75 3.75l-3.75 -3.75zM640 308.15l3.75 3.75l-3.75 3.75l-3.75 -3.75zM643.1 305.65l3.75 3.75l-3.75 3.75l-3.75 -3.75zM645 298.75l3.75 3.75l-3.75 3.75l-3.75 -3.75zM645 292.5l3.75 3.75l-3.75 3.75l-3.75 -3.75zM650 283.75l3.75 3.75l-3.75 3.75l-3.75 -3.75zM653.1 283.75l3.75 3.75l-3.75 3.75l-3.75 -3.75zM659.4 270.65l3.75 3.75l-3.75 3.75l-3.75 -3.75zM660 264.35l3.75 3.75l-3.75 3.75l-3.75 -3.75zM661.9 261.85l3.75 3.75l-3.75 3.75l-3.75 -3.75zM665 255.65l3.75 3.75l-3.75 3.75l-3.75 -3.75zM666.9 252.5l3.75 3.75l-3.75 3.75l-3.75 -3.75zM668.75 249.35l3.75 3.75l-3.75 3.75l-3.75 -3.75zM669.4 242.5l3.75 3.75l-3.75 3.75l-3.75 -3.75zM670.6 238.75l3.75 3.75l-3.75 3.75l-3.75 -3.75zM671.9 235.65l3.75 3.75l-3.75 3.75l-3.75 -3.75zM672.5 231.85l3.75 3.75l-3.75 3.75l-3.75 -3.75zM672.5 216.85l3.75 3.75l-3.75 3.75l-3.75 -3.75zM673.75 211.25l3.75 3.75l-3.75 3.75l-3.75 -3.75zM675 207.5l3.75 3.75l-3.75 3.75l-3.75 -3.75zM675.6 195.65l3.75 3.75l-3.75 3.75l-3.75 -3.75zM676.25 186.85l3.75 3.75l-3.75 3.75l-3.75 -3.75zM677.5 181.85l3.75 3.75l-3.75 3.75l-3.75 -3.75zM680 180l3.75 3.75l-3.75 3.75l-3.75 -3.75zM682.5 178.15l3.75 3.75l-3.75 3.75l-3.75 -3.75zM682.5 163.15l3.75 3.75l-3.75 3.75l-3.75 -3.75zM683.1 156.85l3.75 3.75l-3.75 3.75l-3.75 -3.75zM683.1 151.85l3.75 3.75l-3.75 3.75l-3.75 -3.75zM690 148.75l3.75 3.75l-3.75 3.75l-3.75 -3.75zM691.25 141.85l3.75 3.75l-3.75 3.75l-3.75 -3.75zM695 141.25l3.75 3.75l-3.75 3.75l-3.75 -3.75zM696.25 136.25l3.75 3.75l-3.75 3.75l-3.75 -3.75zM696.25 130.65l3.75 3.75l-3.75 3.75l-3.75 -3.75zM713.75 128.75l3.75 3.75l-3.75 3.75l-3.75 -3.75zM716.25 126.85l3.75 3.75l-3.75 3.75l-3.75 -3.75zM715 125l3.75 3.75l-3.75 3.75l-3.75 -3.75zM716.25 121.85l3.75 3.75l-3.75 3.75l-3.75 -3.75zM723.1 111.25l3.75 3.75l-3.75 3.75l-3.75 -3.75zM723.75 108.75l3.75 3.75l-3.75 3.75l-3.75 -3.75zM723.75 103.75l3.75 3.75l-3.75 3.75l-3.75 -3.75zM725 98.15l3.75 3.75l-3.75 3.75l-3.75 -3.75zM726.25 90.65l3.75 3.75l-3.75 3.75l-3.75 -3.75zM740.4 69.75l3.75 3.75l-3.75 3.75l-3.75 -3.75zM748.4 68.75l3.75 3.75l-3.75 3.75l-3.75 -3.75zM749.4 60l3.75 3.75l-3.75 3.75l-3.75 -3.75zM749 51.75l3.75 3.75l-3.75 3.75l-3.75 -3.75zM750 38.75l3.75 3.75l-3.75 3.75l-3.75 -3.75zM751.3 33.75l3.75 3.75l-3.75 3.75l-3.75 -3.75zM767 31.25l3.75 3.75l-3.75 3.75l-3.75 -3.75zM771.5 19.25l3.75 3.75l-3.75 3.75l-3.75 -3.75z"/>
<text x="80.7" y="107" text-anchor="end" style="font-size:14.6px" textLength="45.4" lengthAdjust="spacingAndGlyphs">350,000</text>
<text x="80.7" y="191" text-anchor="end" style="font-size:14.6px" textLength="45.4" lengthAdjust="spacingAndGlyphs">300,000</text>
<text x="80.7" y="275" text-anchor="end" style="font-size:14.6px" textLength="45.4" lengthAdjust="spacingAndGlyphs">250,000</text>
<text x="80.7" y="359" text-anchor="end" style="font-size:14.6px" textLength="45.4" lengthAdjust="spacingAndGlyphs">200,000</text>
<text x="80.7" y="442" text-anchor="end" style="font-size:14.6px" textLength="44.7" lengthAdjust="spacingAndGlyphs">150,000</text>
<text x="80.7" y="526" text-anchor="end" style="font-size:14.6px" textLength="44.7" lengthAdjust="spacingAndGlyphs">100,000</text>
<text x="80.7" y="610" text-anchor="end" style="font-size:14.6px" textLength="38.7" lengthAdjust="spacingAndGlyphs">50,000</text>
<text x="80.7" y="694" text-anchor="end" style="font-size:14.6px" textLength="6.9" lengthAdjust="spacingAndGlyphs">0</text>
<text x="99.6" y="749" text-anchor="middle" style="font-size:14.6px" textLength="6.9" lengthAdjust="spacingAndGlyphs">0</text>
<text x="179.7" y="749" text-anchor="middle" style="font-size:14.6px" textLength="20.3" lengthAdjust="spacingAndGlyphs">500</text>
<text x="259.7" y="749" text-anchor="middle" style="font-size:14.6px" textLength="30.2" lengthAdjust="spacingAndGlyphs">1,000</text>
<text x="340" y="749" text-anchor="middle" style="font-size:14.6px" textLength="30.2" lengthAdjust="spacingAndGlyphs">1,500</text>
<text x="419.8" y="749" text-anchor="middle" style="font-size:14.6px" textLength="30.2" lengthAdjust="spacingAndGlyphs">2,000</text>
<text x="499.9" y="749" text-anchor="middle" style="font-size:14.6px" textLength="30.2" lengthAdjust="spacingAndGlyphs">2,500</text>
<text x="579.7" y="749" text-anchor="middle" style="font-size:14.6px" textLength="30.2" lengthAdjust="spacingAndGlyphs">3,000</text>
<text x="659" y="749" text-anchor="middle" style="font-size:14.6px" textLength="30.2" lengthAdjust="spacingAndGlyphs">3,500</text>
<text x="738.9" y="749" text-anchor="middle" style="font-size:14.6px" textLength="30.2" lengthAdjust="spacingAndGlyphs">4,000</text>
<text x="394" y="770.3" text-anchor="middle" textLength="84.6" lengthAdjust="spacingAndGlyphs">Trade Number</text>
<text transform="translate(28.1 368.7) rotate(-90)" text-anchor="middle" textLength="52.6" lengthAdjust="spacingAndGlyphs">Equity ($)</text>
<line x1="325.5" y1="784.7" x2="348" y2="784.7" stroke="#222" stroke-width="1"/>
<text x="348.8" y="790" textLength="55.8" lengthAdjust="spacingAndGlyphs">Net Profit</text>
<path fill="#00f400" d="M434.9 781l3.2 3.2l-3.2 3.2l-3.2 -3.2z"/>
<text x="448.4" y="790" textLength="32" lengthAdjust="spacingAndGlyphs">Peaks</text>
</svg></body></html>
